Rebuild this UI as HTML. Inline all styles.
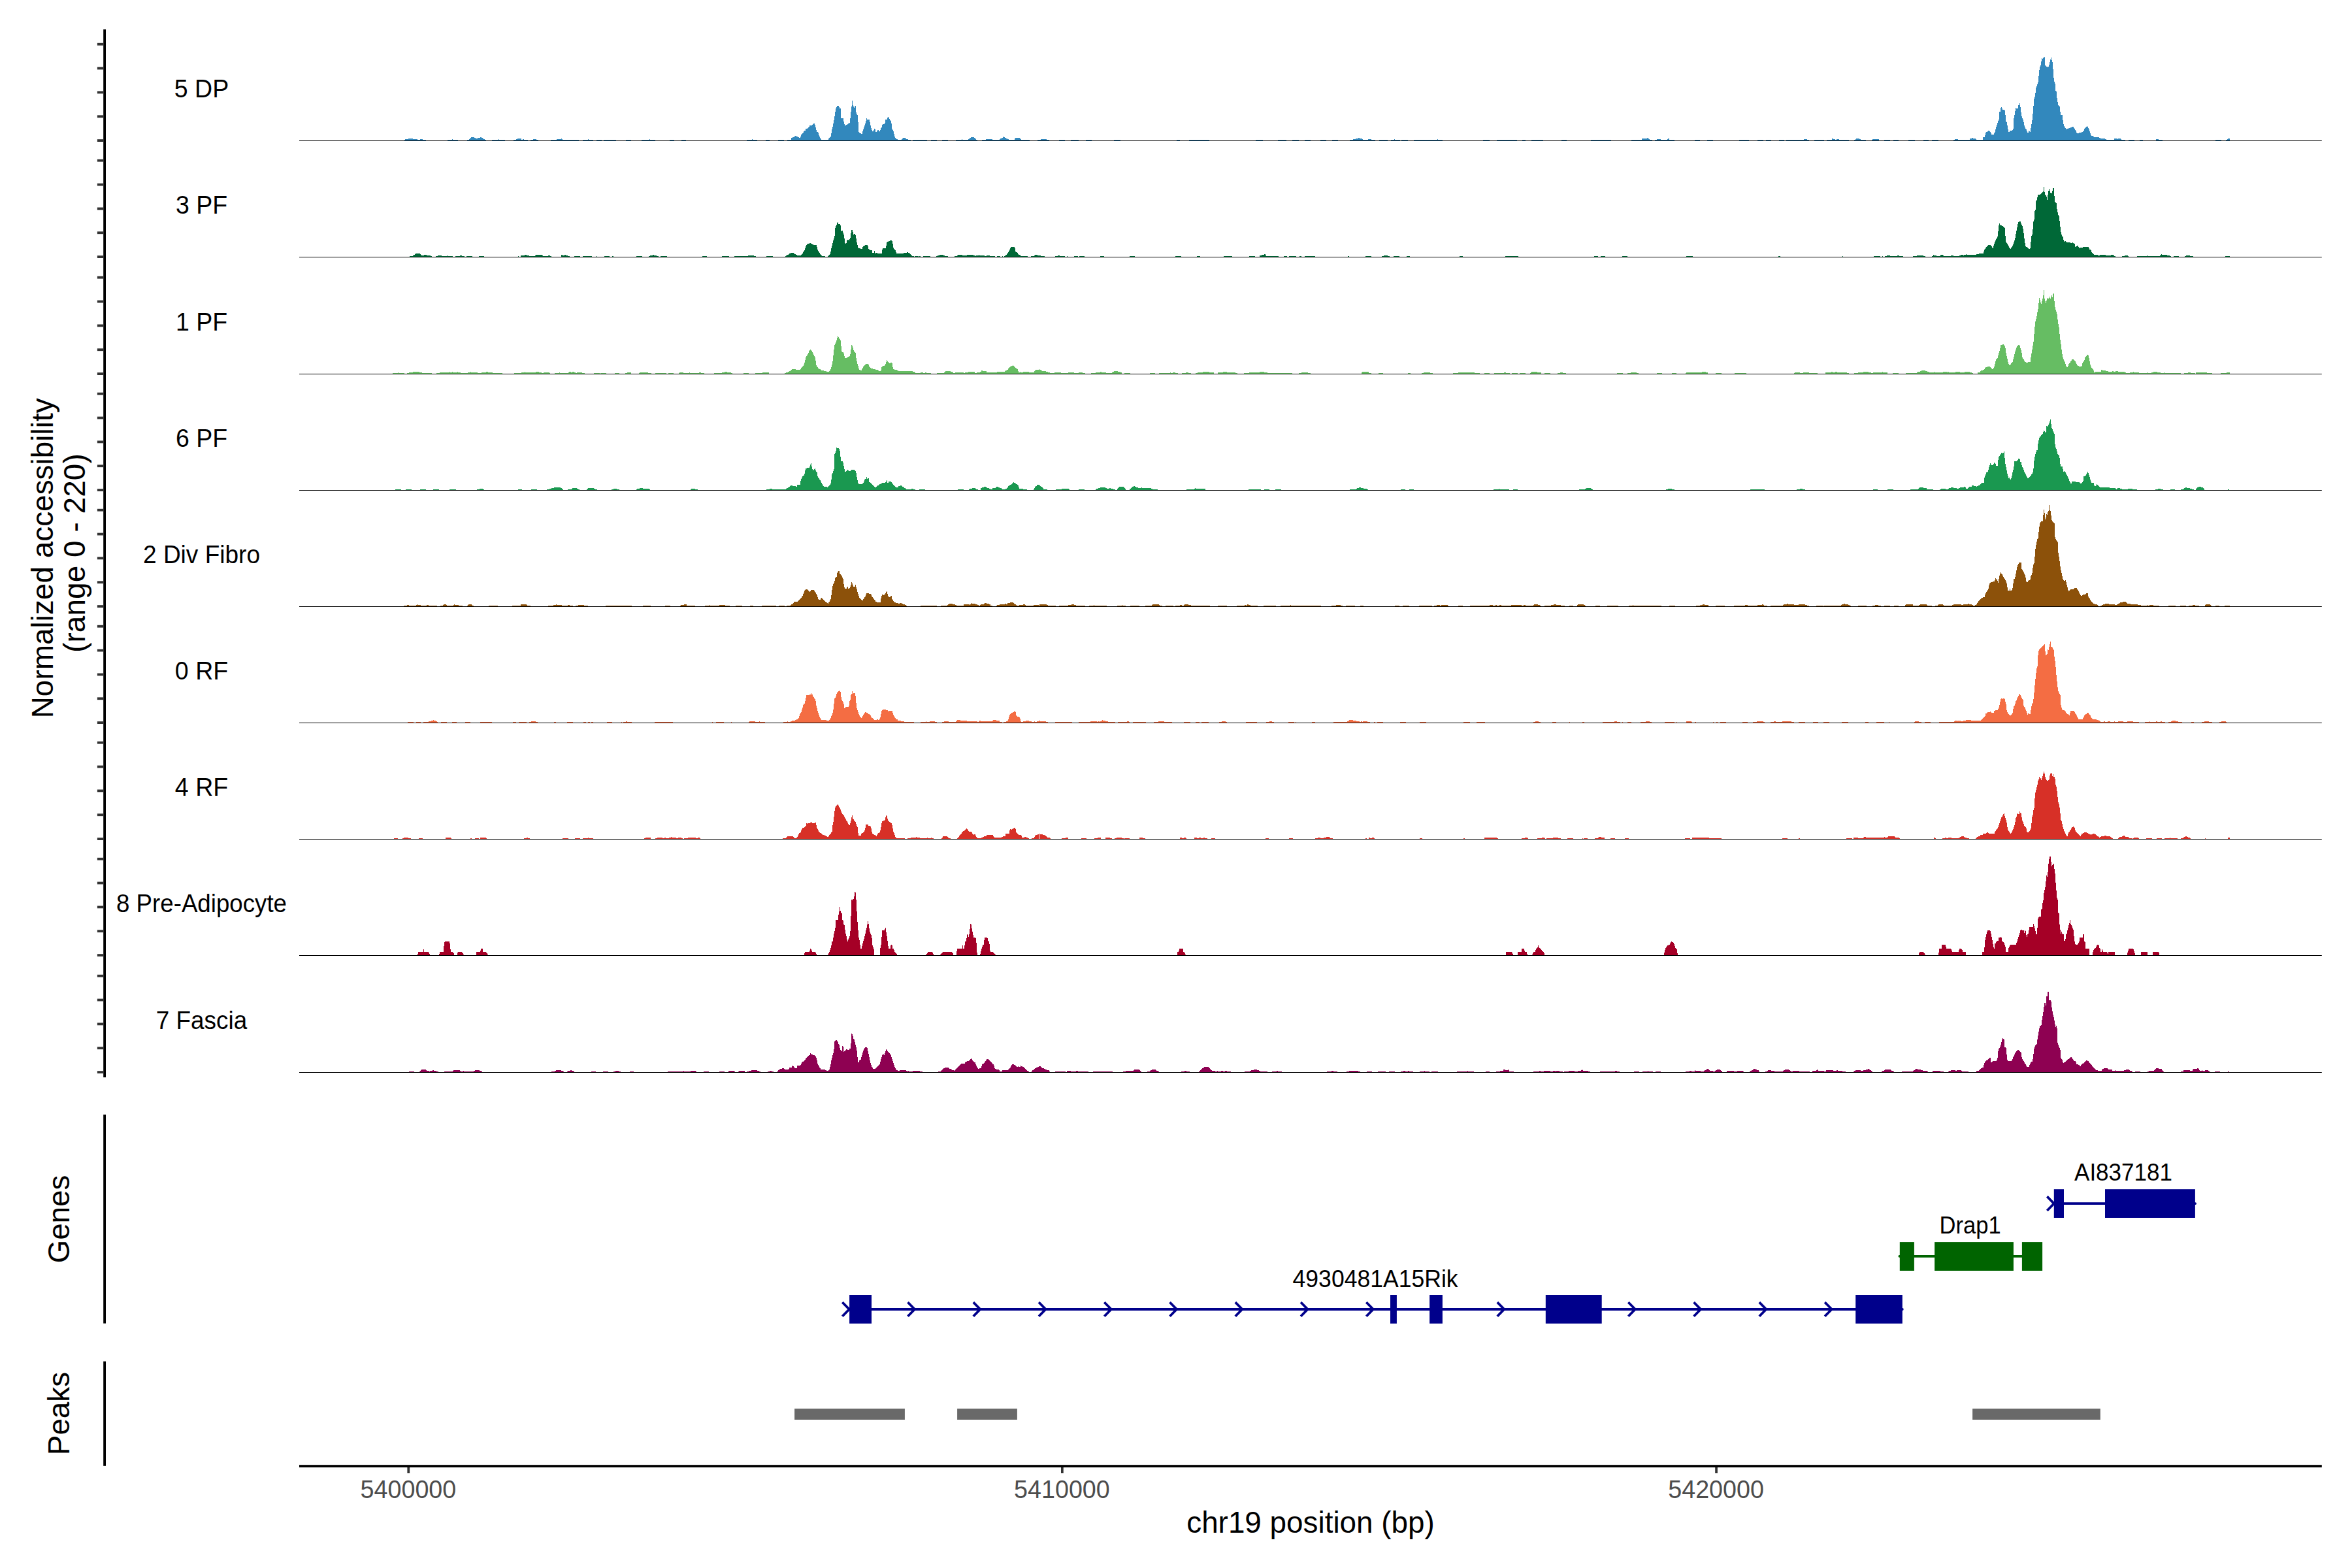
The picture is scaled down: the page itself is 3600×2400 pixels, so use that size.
<!DOCTYPE html>
<html><head><meta charset="utf-8"><title>Coverage plot</title>
<style>
html,body{margin:0;padding:0;background:#fff;}
body{width:3600px;height:2400px;overflow:hidden;}
svg{display:block;font-family:"Liberation Sans",Arial,sans-serif;}
</style></head><body>
<svg width="3600" height="2400" viewBox="0 0 3600 2400">
<rect width="3600" height="2400" fill="#fff"/>
<path d="M619.2 215.0L619.2 213.6L627.0 212.2L631.1 212.2L632.5 213.1L638.0 213.1L639.4 213.9L643.0 213.9L643.6 213.1L646.3 213.1L647.7 213.9L651.9 213.9L651.9 215.0L685.0 215.0L685.0 213.9L691.9 213.9L692.8 213.1L693.9 213.9L700.8 213.9L700.8 215.0L715.4 215.0L715.4 213.9L718.2 213.6L721.5 210.3L725.9 210.3L727.9 211.7L733.4 211.4L734.8 210.3L737.0 210.3L740.3 212.8L743.1 213.9L743.9 213.9L743.9 215.0L753.0 215.0L753.0 213.9L762.7 213.9L763.3 213.1L764.1 213.9L772.9 213.9L772.9 215.0L785.9 215.0L785.9 213.9L790.1 213.6L792.3 212.2L797.5 212.2L798.4 213.6L800.3 213.6L801.1 212.8L802.5 213.9L808.0 213.9L808.0 215.0L812.2 215.0L812.2 213.9L815.5 213.6L816.6 212.8L820.5 212.8L821.8 213.9L824.1 213.9L824.1 215.0L843.1 215.0L843.1 213.9L851.4 213.9L852.2 212.8L859.2 212.8L860.0 212.0L861.1 213.9L886.0 213.9L886.0 215.0L892.3 215.0L892.3 213.9L900.1 213.9L900.6 213.1L901.4 213.9L908.1 213.9L908.1 215.0L913.1 215.0L913.2 213.9L920.7 213.9L920.8 215.0L924.1 215.0L924.3 213.9L942.8 213.9L942.9 215.0L958.1 215.0L958.2 213.9L966.0 213.9L966.1 215.0L982.2 215.0L982.2 213.9L994.0 213.9L994.6 213.1L995.4 213.9L1002.9 213.9L1002.9 215.0L1025.0 215.0L1025.1 213.9L1032.0 213.9L1032.2 215.0L1043.2 215.0L1043.4 213.9L1049.7 213.9L1049.9 215.0L1143.3 215.0L1143.3 213.9L1150.8 213.9L1151.3 213.1L1152.1 213.9L1159.0 213.9L1159.0 215.0L1172.0 215.0L1172.2 213.9L1178.3 213.9L1178.4 215.0L1190.8 215.0L1191.2 214.1L1199.8 214.1L1200.2 215.0L1204.9 215.0L1205.3 214.1L1211.0 214.1L1211.2 211.4L1213.8 210.2L1217.0 208.4L1220.2 208.6L1223.4 211.2L1224.9 210.9L1226.2 206.3L1229.7 202.9L1230.6 200.3L1232.9 200.3L1233.3 197.4L1236.1 196.9L1239.9 191.8L1242.5 192.3L1246.3 188.2L1248.2 193.3L1250.2 202.2L1252.4 202.2L1254.0 208.6L1256.5 213.1L1257.2 214.1L1268.0 214.1L1268.3 212.4L1271.8 208.6L1273.4 198.4L1275.0 192.0L1276.9 181.8L1279.2 166.5L1281.4 162.4L1284.0 162.4L1285.2 165.9L1286.9 166.5L1287.1 180.3L1288.4 181.2L1290.3 180.3L1292.9 192.0L1294.8 191.8L1298.0 189.5L1299.9 189.2L1300.9 186.9L1302.4 171.6L1303.7 161.4L1304.5 154.4L1305.6 161.4L1307.3 165.3L1308.2 163.3L1309.5 162.4L1310.7 174.2L1312.7 176.7L1313.7 189.5L1314.2 202.2L1317.1 204.2L1319.7 205.4L1320.3 201.6L1324.1 190.8L1326.4 181.2L1328.0 183.4L1330.5 182.5L1332.4 191.4L1335.0 201.0L1336.9 201.0L1338.2 196.5L1339.4 197.8L1340.1 202.2L1342.0 202.0L1343.3 199.4L1344.5 199.4L1345.2 201.2L1346.8 201.2L1348.4 195.2L1349.0 197.1L1350.3 191.0L1352.2 190.1L1354.1 190.1L1355.4 183.4L1357.9 182.5L1359.2 178.3L1361.1 181.2L1364.3 186.9L1365.2 195.9L1367.5 201.0L1369.4 209.3L1371.3 212.4L1373.9 213.7L1374.5 214.4L1379.6 214.4L1382.2 211.4L1385.4 211.4L1387.3 213.1L1389.8 213.5L1390.5 214.1L1393.6 214.4L1394.3 215.0L1396.8 215.0L1397.2 214.2L1418.5 214.2L1418.9 215.0L1424.9 215.0L1425.3 214.2L1433.8 214.2L1434.2 215.0L1441.5 215.0L1441.9 214.2L1450.4 214.2L1450.8 215.0L1462.5 215.0L1462.9 214.2L1472.1 214.2L1472.5 213.2L1473.0 214.2L1480.0 214.2L1480.0 214.0L1481.7 214.0L1483.0 212.7L1485.5 210.8L1487.4 209.9L1490.0 210.2L1492.9 211.0L1493.8 213.3L1495.7 214.0L1496.1 215.0L1502.7 215.0L1503.4 214.0L1509.1 214.0L1509.5 213.1L1518.7 213.1L1519.3 214.0L1529.9 214.0L1530.8 212.7L1534.0 211.0L1536.5 208.9L1538.4 210.8L1541.6 212.3L1543.9 213.3L1544.4 214.0L1552.9 214.0L1553.4 212.1L1554.6 211.0L1560.8 211.0L1562.0 212.7L1563.3 214.0L1575.8 214.0L1576.3 215.0L1587.8 215.0L1588.3 214.0L1592.7 214.0L1593.3 213.1L1596.7 213.0L1597.2 212.1L1597.8 213.0L1601.6 213.1L1602.2 214.0L1605.8 214.0L1606.2 215.0L1621.0 215.0L1621.5 214.0L1629.9 214.0L1630.3 215.0L1638.8 215.0L1639.3 214.0L1650.9 214.0L1651.3 215.0L1661.9 215.0L1662.4 214.0L1670.8 214.0L1671.2 215.0L1704.9 215.0L1705.4 214.0L1714.7 214.0L1715.1 215.0L1800.9 215.0L1801.0 213.8L1805.6 213.8L1805.8 215.0L1820.2 215.0L1820.3 213.8L1850.6 213.8L1850.8 215.0L1922.1 215.0L1922.3 213.8L1932.7 213.8L1932.8 215.0L1956.1 215.0L1956.2 213.8L1968.8 213.8L1968.9 215.0L1978.1 215.0L1978.3 213.8L1987.8 213.8L1987.9 215.0L1997.1 215.0L1997.3 213.8L2005.8 213.8L2006.0 215.0L2021.0 215.0L2021.1 213.8L2029.7 213.8L2029.9 215.0L2039.0 215.0L2039.2 213.8L2047.8 213.8L2047.9 215.0L2066.0 215.0L2066.0 213.8L2070.6 213.8L2071.2 212.9L2074.2 212.9L2075.2 211.9L2078.8 211.9L2079.7 210.7L2081.0 211.9L2084.9 211.9L2085.9 213.8L2094.1 213.8L2095.0 212.9L2098.7 212.9L2099.6 213.8L2104.8 213.8L2104.8 215.0L2111.0 215.0L2111.1 213.8L2123.7 213.8L2123.8 215.0L2128.7 215.0L2128.7 213.8L2133.9 213.8L2134.5 212.9L2135.5 213.8L2143.1 213.8L2143.1 215.0L2145.2 215.0L2145.4 213.8L2154.6 213.8L2154.7 215.0L2163.9 215.0L2163.9 213.8L2199.7 213.8L2200.3 212.9L2201.3 213.8L2207.7 213.8L2207.7 215.0L2270.0 215.0L2270.2 213.8L2278.4 213.8L2278.6 215.0L2278.6 213.8L2279.8 213.8L2279.9 215.0L2290.8 215.0L2291.0 213.8L2321.9 213.8L2322.0 215.0L2330.0 215.0L2330.1 213.8L2334.7 213.8L2334.9 215.0L2344.1 215.0L2344.2 213.8L2361.7 213.8L2361.8 215.0L2390.0 215.0L2390.1 213.8L2397.8 213.8L2397.9 215.0L2435.3 215.0L2435.4 213.8L2465.7 213.8L2465.9 215.0L2497.1 215.0L2497.1 213.8L2512.7 213.8L2513.3 211.9L2520.4 211.9L2521.0 211.0L2521.9 211.9L2524.1 212.6L2525.0 213.8L2528.6 213.8L2528.6 215.0L2532.6 215.0L2532.6 213.8L2536.3 213.8L2536.9 212.9L2541.8 212.9L2542.4 213.8L2552.2 213.8L2553.1 212.6L2554.7 211.9L2555.3 213.8L2562.9 213.8L2562.9 215.0L2593.8 215.0L2594.0 213.8L2602.0 213.8L2602.1 215.0L2612.8 215.0L2613.0 213.8L2621.9 213.8L2622.0 215.0L2661.8 215.0L2661.9 213.8L2676.9 213.8L2677.1 215.0L2690.0 215.0L2690.1 213.8L2699.0 213.8L2699.1 215.0L2702.8 215.0L2703.0 213.8L2710.9 213.8L2711.1 215.0L2723.0 215.0L2723.2 213.8L2730.8 213.8L2731.0 215.0L2734.0 215.0L2734.0 213.8L2760.7 213.8L2761.3 212.9L2765.3 212.9L2765.9 213.8L2768.9 213.8L2768.9 215.0L2777.2 215.0L2777.3 213.8L2792.0 213.8L2792.2 215.0L2795.9 215.0L2795.9 213.8L2803.5 213.8L2804.1 212.9L2805.0 211.9L2806.3 212.9L2808.7 212.9L2809.3 213.8L2811.2 213.8L2811.8 212.9L2814.2 212.9L2814.8 213.8L2830.1 213.8L2830.1 215.0L2838.1 215.0L2838.1 213.8L2840.2 213.8L2840.9 212.9L2842.4 211.9L2844.8 211.9L2847.0 212.9L2847.9 213.8L2855.9 213.8L2855.9 215.0L2865.3 215.0L2865.3 213.8L2866.3 213.2L2875.4 213.2L2876.1 213.8L2876.1 215.0L2884.0 215.0L2884.2 213.8L2892.7 213.8L2892.9 215.0L2897.5 215.0L2897.6 213.8L2905.9 213.8L2906.1 215.0L2920.7 215.0L2920.9 213.8L2931.0 213.8L2931.2 215.0L2944.0 215.0L2944.2 213.8L2951.8 213.8L2952.0 215.0L2956.9 215.0L2957.0 213.8L2966.8 213.8L2967.0 215.0L2989.9 215.0L2992.1 213.2L2996.6 213.2L2997.2 214.1L3015.1 214.1L3015.3 211.8L3016.4 212.6L3018.3 210.9L3020.2 211.8L3023.4 211.8L3025.3 214.1L3034.8 214.1L3035.1 210.0L3037.7 210.0L3039.3 203.3L3041.2 202.0L3043.8 199.8L3046.3 202.0L3048.2 205.8L3051.4 205.8L3053.0 203.9L3055.3 194.3L3057.8 187.3L3059.7 182.2L3060.4 171.4L3061.6 170.7L3062.7 164.1L3063.5 164.4L3065.2 167.6L3068.0 168.2L3069.0 170.7L3070.3 185.4L3071.8 187.3L3074.1 201.4L3075.0 202.9L3076.3 200.1L3079.5 199.8L3081.8 196.9L3082.3 182.2L3084.0 173.3L3085.2 165.0L3087.1 165.9L3088.8 165.9L3089.3 160.3L3090.3 161.6L3091.6 158.2L3092.9 166.9L3094.2 177.8L3096.3 182.2L3099.3 195.0L3101.8 198.2L3102.7 202.0L3104.4 203.3L3105.6 200.1L3107.6 202.0L3109.1 192.4L3110.4 185.4L3111.4 175.2L3113.3 152.2L3114.9 146.5L3116.5 134.4L3118.4 129.9L3119.7 124.8L3121.3 107.6L3122.6 101.9L3123.9 99.9L3124.8 91.7L3125.7 88.9L3126.7 89.7L3127.7 87.8L3128.6 89.1L3129.6 86.9L3130.0 99.9L3132.4 101.9L3135.0 103.1L3136.2 100.6L3138.2 91.7L3139.4 88.1L3140.5 91.7L3141.7 96.1L3142.6 107.0L3143.9 123.5L3145.4 126.1L3146.1 138.9L3147.5 139.5L3148.1 147.8L3150.3 161.2L3152.4 162.4L3154.1 175.8L3156.7 176.5L3157.9 187.3L3159.8 194.3L3161.8 196.2L3163.7 197.9L3165.2 196.0L3166.2 196.9L3168.5 196.2L3171.3 194.1L3173.6 194.1L3175.8 197.5L3177.4 199.8L3178.7 203.3L3180.3 203.9L3182.2 203.3L3185.4 202.9L3189.2 201.1L3190.2 196.9L3192.4 195.0L3194.9 193.1L3196.8 196.2L3198.8 201.4L3200.9 207.7L3203.2 208.1L3205.5 210.0L3212.1 210.3L3215.3 211.9L3221.7 212.2L3224.9 214.1L3236.1 214.1L3236.4 211.9L3240.2 211.9L3241.5 212.8L3243.4 211.9L3245.6 212.2L3247.9 214.1L3252.3 214.1L3253.0 215.0L3257.8 215.0L3258.3 214.1L3266.4 214.1L3267.0 215.0L3274.6 215.0L3275.3 214.1L3280.0 214.1L3280.0 215.0L3300.0 215.0L3300.0 213.3L3303.8 213.3L3304.1 214.1L3309.9 214.1L3309.9 215.0L3390.9 215.0L3391.0 214.1L3399.8 214.1L3399.9 215.0L3406.9 215.0L3406.9 214.2L3409.1 213.7L3409.7 212.8L3411.0 212.3L3412.8 211.8L3412.8 215.0Z" fill="#3288BD" shape-rendering="crispEdges"/>
<rect x="458.0" y="215.00" width="3095.8" height="1" fill="#000"/>
<path d="M627.1 393.0L627.1 392.0L631.5 392.0L632.8 390.7L636.7 388.1L641.9 387.8L645.8 391.2L649.1 391.2L649.6 389.9L652.2 389.9L653.0 390.7L657.9 390.7L658.7 391.7L660.5 391.7L660.5 393.0L667.3 393.0L667.3 392.0L669.9 392.0L670.9 390.9L675.6 390.9L676.4 392.0L684.9 392.0L685.4 390.7L686.0 392.0L693.0 392.0L693.0 393.0L697.1 393.0L697.1 392.0L704.1 391.7L705.4 390.7L706.7 390.7L707.5 392.0L710.6 392.0L710.6 393.0L714.0 393.0L714.1 392.0L722.9 392.0L723.0 393.0L733.2 393.0L733.3 392.0L740.8 392.0L740.9 393.0L793.1 393.0L793.2 392.0L794.0 392.0L794.1 393.0L797.0 393.0L797.0 392.0L797.5 390.9L802.7 390.7L803.4 389.9L805.2 389.9L806.0 390.7L809.9 390.9L810.4 392.0L818.2 392.0L820.3 390.1L822.1 389.6L828.6 389.6L831.2 392.0L833.3 392.0L833.8 391.7L838.4 391.7L839.5 390.7L841.0 390.7L842.1 391.7L844.1 392.0L844.1 393.0L858.9 393.0L858.9 389.9L861.0 389.9L861.5 390.9L863.6 390.9L864.4 389.9L865.7 389.9L867.0 390.9L868.0 390.9L868.8 391.7L871.9 391.7L871.9 393.0L879.2 393.0L879.3 392.0L888.1 392.0L888.2 393.0L892.1 393.0L892.3 392.0L905.7 392.0L905.9 393.0L912.9 393.0L913.0 392.0L913.5 392.0L913.7 393.0L925.1 393.0L925.2 392.0L932.7 392.0L932.8 393.0L937.0 393.0L937.1 392.0L938.7 392.0L938.8 393.0L973.8 393.0L973.9 392.0L982.8 392.0L982.9 393.0L992.7 393.0L992.7 392.0L994.6 392.0L995.3 390.9L998.5 390.9L999.2 389.9L1000.3 389.9L1001.0 390.9L1004.9 390.9L1005.7 392.0L1008.0 392.0L1008.0 393.0L1010.9 393.0L1011.0 392.0L1020.9 392.0L1021.0 393.0L1075.0 393.0L1075.1 392.0L1081.8 392.0L1082.0 393.0L1105.3 393.0L1105.4 392.0L1115.8 392.0L1115.9 393.0L1124.2 393.0L1124.2 392.0L1145.0 392.0L1145.8 390.9L1153.3 390.9L1154.3 392.0L1157.2 392.0L1157.2 393.0L1173.0 393.0L1173.1 392.0L1183.0 392.0L1183.1 393.0L1201.6 393.0L1203.6 391.0L1207.9 389.3L1208.7 387.9L1211.3 387.0L1214.7 387.0L1218.1 389.8L1221.5 391.0L1225.7 391.0L1228.3 388.1L1231.7 382.5L1233.9 375.7L1237.3 372.6L1238.5 373.1L1240.2 371.1L1241.0 372.8L1244.1 374.0L1246.1 374.8L1249.9 374.8L1251.2 381.6L1254.6 387.6L1258.0 392.1L1262.8 392.1L1263.1 393.0L1266.9 393.0L1270.8 388.4L1272.5 379.9L1275.0 369.7L1277.6 361.2L1278.4 349.3L1281.0 342.5L1282.3 339.9L1283.5 342.5L1284.9 342.5L1286.6 345.0L1287.3 352.4L1288.6 354.1L1289.5 353.0L1291.7 359.5L1293.7 373.1L1295.1 373.4L1296.3 368.3L1298.0 367.1L1299.7 368.0L1301.4 364.6L1302.6 356.9L1303.4 352.2L1304.8 352.2L1306.5 359.5L1308.2 357.8L1309.9 361.2L1311.6 371.4L1313.8 379.6L1316.7 380.4L1319.3 381.9L1320.6 377.4L1324.4 375.1L1327.8 375.1L1329.8 381.6L1334.6 383.3L1335.4 387.0L1338.0 387.0L1338.5 384.2L1340.0 387.9L1342.2 387.0L1343.9 387.9L1349.9 387.9L1350.7 380.2L1355.8 379.9L1357.5 370.6L1360.9 368.9L1364.3 368.0L1366.0 369.7L1367.7 380.4L1370.8 383.3L1372.0 387.6L1373.3 388.1L1383.0 388.1L1383.9 387.0L1387.3 387.0L1389.0 386.2L1391.5 387.0L1394.1 389.3L1395.8 391.8L1397.8 392.1L1400.0 393.0L1400.5 392.0L1406.0 392.0L1406.5 393.0L1408.2 392.0L1409.9 393.0L1412.8 393.0L1413.3 392.0L1423.8 392.0L1424.4 393.0L1433.2 393.0L1433.7 391.8L1436.6 391.3L1438.6 390.4L1441.7 389.8L1443.4 390.4L1446.0 391.3L1446.5 392.0L1450.7 392.0L1451.2 393.0L1460.7 393.0L1462.1 391.8L1464.7 391.5L1467.2 390.1L1472.3 390.1L1473.2 391.0L1479.1 391.0L1480.0 390.1L1489.3 390.1L1491.9 391.3L1493.6 391.8L1494.4 391.1L1497.8 391.1L1498.3 390.1L1499.2 391.1L1506.3 391.1L1507.2 392.0L1509.7 392.0L1510.2 391.1L1514.8 391.1L1515.7 392.0L1522.5 392.0L1523.0 393.0L1525.9 393.0L1526.4 392.0L1531.0 392.0L1531.5 393.0L1533.9 393.0L1534.4 392.0L1535.2 393.0L1536.9 393.0L1537.8 391.8L1541.2 389.3L1544.6 384.2L1547.1 378.2L1553.1 378.2L1554.8 385.9L1557.3 386.7L1559.0 389.8L1561.6 390.1L1562.4 392.0L1572.7 392.0L1573.2 393.0L1577.8 393.0L1578.3 392.0L1582.9 391.5L1584.6 390.1L1587.1 390.1L1588.0 391.0L1590.0 391.0L1590.1 393.0L1590.1 390.9L1592.5 390.9L1593.4 391.8L1598.8 391.8L1598.8 393.0L1615.1 393.0L1615.1 391.8L1619.3 391.8L1619.9 390.9L1621.7 390.9L1622.3 391.8L1630.0 391.8L1630.0 393.0L1633.0 393.0L1633.1 391.8L1633.7 391.8L1633.9 393.0L1644.0 393.0L1644.1 391.8L1650.1 391.8L1650.2 393.0L1652.0 393.0L1652.2 391.8L1659.6 391.8L1659.8 393.0L1684.2 393.0L1684.3 391.8L1689.7 391.8L1689.8 393.0L1729.1 393.0L1729.3 391.8L1736.7 391.8L1736.8 393.0L1799.3 393.0L1799.5 391.8L1807.8 391.8L1808.0 393.0L1832.1 393.0L1832.2 391.8L1836.7 391.8L1836.8 393.0L1873.2 393.0L1873.3 391.8L1885.8 391.8L1886.0 393.0L1912.1 393.0L1912.3 391.8L1920.9 391.8L1921.1 393.0L1928.2 393.0L1928.2 390.9L1931.2 390.6L1932.7 389.7L1934.8 389.7L1935.7 388.5L1937.1 389.7L1937.7 391.8L1956.8 391.8L1956.8 393.0L1964.8 393.0L1965.0 391.8L1969.7 391.8L1969.9 393.0L1973.2 393.0L1973.3 391.8L1983.7 391.8L1983.9 393.0L1989.2 393.0L1989.4 391.8L1992.1 391.8L1992.2 393.0L1997.3 393.0L1997.4 391.8L2012.9 391.8L2013.0 393.0L2063.0 393.0L2063.2 391.8L2064.7 391.8L2064.8 393.0L2090.1 393.0L2090.3 391.8L2098.9 391.8L2099.0 393.0L2115.1 393.0L2115.1 391.8L2118.1 391.5L2119.3 390.6L2124.0 390.6L2124.6 391.8L2127.0 391.8L2127.0 393.0L2133.0 393.0L2133.1 391.8L2141.8 391.8L2141.9 393.0L2152.9 393.0L2153.1 391.8L2157.8 391.8L2158.0 393.0L2233.9 393.0L2234.0 391.8L2238.8 391.8L2238.9 393.0L2304.2 393.0L2304.4 391.8L2323.7 391.8L2323.9 393.0L2440.2 393.0L2440.4 391.8L2445.4 391.8L2445.6 393.0L2450.1 393.0L2450.2 391.8L2456.8 391.8L2456.9 393.0L2483.1 393.0L2483.2 391.8L2490.7 391.8L2490.8 393.0L2581.3 393.0L2581.5 391.8L2590.7 391.8L2590.8 393.0L2721.8 393.0L2721.9 391.8L2724.6 391.8L2724.8 393.0L2820.0 393.0L2820.1 391.8L2820.7 391.8L2820.9 393.0L2868.2 393.0L2868.4 391.8L2877.6 391.8L2877.7 393.0L2880.7 393.0L2880.9 391.8L2881.5 391.8L2881.6 393.0L2884.9 393.0L2884.9 391.8L2887.6 391.5L2888.5 390.6L2891.4 390.6L2892.6 391.5L2903.9 391.5L2904.8 390.6L2906.3 390.6L2907.2 391.8L2912.9 391.8L2912.9 393.0L2927.7 393.0L2927.7 391.8L2934.3 391.5L2935.5 390.6L2943.2 390.6L2944.4 391.8L2947.1 391.8L2947.1 393.0L2956.9 393.0L2956.9 391.8L2959.0 391.5L2959.6 389.7L2960.5 390.6L2963.5 390.6L2964.3 391.5L2970.0 391.5L2970.0 393.0L2970.0 390.6L2970.2 390.6L2971.9 389.9L2973.6 389.9L2975.0 391.8L2985.5 391.8L2986.4 391.0L2989.8 391.0L2990.6 391.8L2998.8 391.8L3000.8 390.3L3004.6 390.3L3005.6 391.0L3007.6 389.9L3010.2 389.3L3011.0 389.9L3024.6 389.9L3025.5 388.9L3028.9 388.6L3029.7 387.9L3035.7 387.7L3037.4 382.1L3040.8 377.4L3043.3 375.0L3046.7 375.0L3048.8 377.9L3050.5 380.1L3052.7 371.9L3055.2 366.8L3057.8 361.7L3059.1 347.3L3060.3 342.0L3062.0 344.7L3063.4 344.7L3065.4 346.4L3068.8 349.5L3070.0 369.4L3072.2 372.8L3077.3 381.8L3081.6 373.6L3084.1 366.8L3086.7 351.5L3089.3 339.9L3090.6 338.7L3092.7 339.1L3093.8 342.7L3095.2 344.7L3096.9 351.2L3098.1 362.6L3100.3 376.7L3102.9 378.7L3105.4 380.8L3107.6 380.4L3109.3 361.7L3111.0 357.5L3112.6 337.9L3113.9 334.5L3114.4 323.4L3115.6 320.9L3116.8 303.9L3117.8 306.4L3119.0 298.3L3122.9 297.9L3125.8 295.0L3128.0 292.8L3128.5 286.0L3129.2 292.8L3130.6 297.9L3132.6 301.3L3133.5 305.6L3134.8 295.4L3136.4 288.9L3137.7 292.0L3138.9 296.7L3140.3 295.4L3141.6 292.0L3143.3 284.0L3144.0 295.4L3145.4 309.0L3147.6 311.0L3148.8 322.6L3150.1 327.7L3151.8 331.9L3153.0 343.0L3154.7 356.6L3156.4 361.7L3157.8 361.7L3159.0 370.6L3161.0 368.9L3163.2 370.6L3166.6 371.2L3170.9 371.9L3172.6 370.9L3173.9 372.8L3175.6 372.8L3176.3 377.9L3178.5 377.0L3180.2 375.7L3181.6 377.9L3183.6 379.6L3187.0 379.1L3189.6 377.9L3196.4 377.9L3198.1 381.3L3200.1 382.6L3201.5 385.5L3205.7 389.8L3210.0 390.3L3213.4 391.5L3215.1 389.9L3221.9 389.9L3222.8 390.8L3230.4 390.8L3231.3 389.9L3234.7 389.9L3236.4 391.5L3238.1 393.0L3247.4 393.0L3248.3 392.0L3251.7 391.6L3252.5 390.8L3255.9 390.8L3258.0 392.7L3270.9 392.7L3271.6 391.8L3285.7 391.8L3286.5 390.8L3287.9 391.8L3306.1 391.8L3307.8 389.8L3308.6 388.9L3309.5 389.9L3316.3 389.9L3318.0 391.1L3322.2 391.6L3323.1 392.7L3327.3 392.7L3328.2 391.8L3335.0 391.8L3335.5 392.7L3344.0 392.7L3346.9 391.1L3350.3 390.8L3352.9 392.3L3360.0 392.7L3360.0 393.0L3405.9 393.0L3405.9 392.4L3406.3 391.9L3412.7 391.9L3413.0 392.4L3413.0 393.0Z" fill="#006837" shape-rendering="crispEdges"/>
<rect x="458.0" y="393.00" width="3095.8" height="1" fill="#000"/>
<path d="M601.2 572.0L601.2 571.0L610.0 571.0L610.5 570.2L611.0 571.0L619.0 571.0L619.0 572.0L623.2 572.0L623.2 571.0L625.8 571.0L626.6 569.9L631.5 569.9L632.3 568.9L641.9 568.9L642.6 569.9L645.8 569.9L646.5 571.0L660.8 571.0L660.8 572.0L667.8 572.0L667.8 571.0L672.5 571.0L673.2 569.9L687.3 569.9L687.8 568.9L688.3 569.9L692.2 569.9L692.7 568.9L693.2 569.9L700.2 569.9L700.7 568.9L701.3 569.9L704.6 569.9L705.4 571.0L715.8 571.0L716.6 569.9L719.7 569.9L720.4 568.9L721.7 569.9L730.8 569.9L731.6 571.0L736.5 571.0L737.3 569.9L743.8 569.9L744.6 568.9L746.6 568.9L747.4 569.9L753.9 569.9L754.7 571.0L768.7 571.0L768.7 572.0L787.1 572.0L787.1 571.0L797.5 571.0L798.2 569.9L802.7 569.9L803.4 568.9L804.7 569.9L819.5 569.9L820.3 568.9L824.7 568.9L825.5 569.9L828.6 569.9L829.4 571.0L831.7 571.0L832.5 569.9L841.0 569.9L841.8 571.0L841.8 572.0L848.8 572.0L848.8 571.0L856.1 571.0L856.6 570.2L857.1 571.0L869.6 571.0L870.3 569.9L871.4 568.9L873.5 568.9L874.2 569.9L875.8 569.9L876.6 568.9L878.6 568.9L879.4 569.9L882.5 571.0L883.3 569.9L890.3 569.9L891.1 571.0L895.0 571.0L895.0 572.0L909.0 572.0L909.1 571.0L917.9 571.0L918.1 572.0L919.4 572.0L919.5 571.0L927.8 571.0L927.9 572.0L940.9 572.0L941.0 571.0L948.0 571.0L948.1 572.0L957.0 572.0L957.0 571.0L959.6 571.0L960.3 569.9L965.5 569.9L966.0 571.0L966.0 572.0L978.2 572.0L978.2 571.0L979.0 569.9L991.5 569.9L992.2 571.0L996.6 571.0L996.6 572.0L1003.1 572.0L1003.3 571.0L1019.6 571.0L1019.7 572.0L1022.6 572.0L1022.7 571.0L1030.7 571.0L1030.9 572.0L1039.2 572.0L1039.2 571.0L1039.9 569.9L1045.7 569.9L1046.4 571.0L1055.0 571.0L1055.5 570.2L1056.0 571.0L1069.8 571.0L1070.5 569.9L1072.4 569.9L1073.1 571.0L1077.8 571.0L1077.8 572.0L1093.1 572.0L1093.1 571.0L1104.8 571.0L1105.6 569.9L1108.7 569.9L1109.5 568.9L1112.6 568.9L1113.3 569.9L1118.5 569.9L1119.3 571.0L1120.9 571.0L1120.9 572.0L1138.0 572.0L1138.1 571.0L1145.6 571.0L1145.8 572.0L1155.9 572.0L1155.9 571.0L1167.0 571.0L1167.8 569.9L1176.6 569.9L1177.4 571.0L1177.4 572.0L1201.1 572.0L1201.9 570.8L1205.3 570.1L1208.7 568.4L1213.0 565.0L1217.2 564.7L1219.8 566.7L1222.3 565.9L1224.9 565.5L1227.1 562.6L1229.5 560.4L1231.7 554.5L1233.4 546.8L1235.9 543.4L1238.5 537.5L1240.5 535.4L1242.7 537.5L1245.3 542.6L1247.8 547.7L1249.5 558.7L1252.1 563.5L1255.5 565.5L1258.0 566.9L1262.3 567.7L1265.7 568.6L1267.4 569.4L1270.8 567.2L1272.8 561.3L1274.5 552.8L1276.2 537.5L1277.2 528.1L1279.3 524.7L1281.0 519.6L1282.3 513.3L1283.5 516.2L1285.2 518.8L1286.9 521.3L1288.1 538.3L1290.3 538.7L1292.0 542.6L1293.2 548.2L1297.1 547.2L1298.8 545.5L1300.2 546.0L1301.9 540.9L1303.4 527.6L1304.8 529.8L1306.2 534.9L1307.3 538.0L1309.4 539.2L1310.7 549.4L1312.8 557.9L1315.0 565.5L1316.7 566.4L1318.7 566.7L1320.6 562.6L1323.5 558.7L1325.7 556.7L1329.1 556.7L1330.3 561.3L1333.7 563.8L1336.3 564.7L1339.7 565.5L1341.4 566.4L1343.6 565.5L1345.1 568.1L1348.2 568.1L1349.4 562.6L1351.6 559.9L1354.1 559.6L1355.8 556.2L1357.5 551.4L1359.2 554.0L1361.8 556.5L1364.3 554.5L1365.7 556.2L1366.9 564.7L1369.4 565.5L1372.0 565.5L1374.5 567.2L1376.2 568.4L1377.9 567.6L1383.0 567.6L1383.9 568.4L1394.1 568.4L1394.9 567.4L1396.1 568.4L1399.2 568.8L1400.9 570.6L1409.4 570.6L1409.9 569.6L1412.8 569.6L1413.3 570.6L1416.2 570.6L1416.7 569.6L1417.9 570.6L1424.7 571.0L1425.5 572.0L1434.0 572.0L1434.9 570.8L1445.1 570.5L1446.8 568.4L1449.4 567.6L1453.6 567.6L1455.3 568.6L1458.7 569.8L1459.6 570.6L1462.1 570.6L1462.6 569.8L1474.9 569.8L1475.4 570.8L1477.1 570.8L1477.8 569.8L1481.7 569.8L1482.5 568.6L1491.9 568.6L1492.4 570.8L1494.8 570.8L1495.3 569.8L1501.2 569.4L1502.6 566.6L1504.6 567.6L1506.3 568.4L1509.7 568.4L1510.6 569.8L1525.9 569.8L1526.7 568.6L1537.8 568.6L1539.5 566.7L1542.0 566.4L1544.6 562.6L1546.3 560.9L1548.8 560.4L1550.5 558.7L1553.1 561.3L1558.2 566.0L1558.7 569.8L1561.6 569.8L1562.4 568.8L1563.3 569.8L1565.9 569.8L1566.7 568.6L1574.4 568.6L1575.2 569.8L1582.9 569.8L1583.7 567.2L1587.1 565.9L1590.0 565.9L1590.4 572.0L1590.4 564.9L1593.4 566.9L1596.4 568.4L1598.5 567.8L1602.3 569.0L1606.2 569.9L1607.4 570.8L1613.3 570.8L1614.2 569.6L1624.0 569.6L1624.6 570.8L1634.5 570.8L1635.4 569.6L1643.7 569.6L1644.3 570.8L1650.8 570.8L1651.4 569.6L1655.9 569.6L1656.8 570.8L1661.0 570.8L1661.0 572.0L1670.2 572.0L1670.2 570.8L1676.7 570.8L1677.6 569.6L1683.6 569.6L1684.5 568.7L1686.0 569.6L1691.9 569.6L1692.8 570.8L1702.0 570.8L1702.9 569.6L1705.0 568.7L1708.0 567.5L1711.0 568.7L1715.4 569.6L1716.9 570.8L1716.9 572.0L1721.4 572.0L1721.5 570.8L1729.9 570.8L1730.0 572.0L1760.1 572.0L1760.2 570.8L1767.6 570.8L1767.8 572.0L1773.5 572.0L1773.5 570.8L1790.7 570.8L1791.3 569.9L1791.9 570.8L1794.3 570.8L1795.2 569.6L1798.8 569.6L1799.6 570.8L1802.6 570.8L1802.6 572.0L1809.2 572.0L1809.2 570.8L1814.5 570.8L1815.4 569.6L1818.7 569.6L1819.6 570.8L1822.9 570.8L1822.9 572.0L1830.0 572.0L1830.0 570.8L1832.4 570.8L1833.3 569.6L1841.3 569.6L1842.5 568.7L1850.2 568.7L1851.4 569.6L1856.8 569.6L1858.3 570.8L1858.3 572.0L1864.2 572.0L1864.2 570.8L1865.1 569.6L1871.7 569.6L1872.9 568.7L1877.0 568.7L1878.2 569.6L1890.1 569.6L1891.3 570.8L1893.7 570.8L1893.7 572.0L1903.8 572.0L1903.8 570.8L1911.8 570.8L1912.7 569.6L1927.6 569.6L1928.8 568.7L1933.6 568.7L1934.8 569.6L1939.5 569.6L1940.4 570.8L1977.9 570.8L1977.9 572.0L1987.7 572.0L1987.7 570.8L1991.6 570.8L1992.5 569.6L2001.4 569.6L2002.6 570.8L2005.6 570.8L2005.6 572.0L2083.9 572.0L2083.9 570.8L2086.0 568.7L2094.3 568.7L2095.5 570.8L2098.8 570.8L2098.8 572.0L2109.8 572.0L2109.9 570.8L2116.8 570.8L2116.9 572.0L2155.0 572.0L2155.1 570.8L2158.7 570.8L2158.9 572.0L2175.8 572.0L2175.8 570.8L2179.1 570.8L2180.0 569.6L2187.7 569.6L2188.9 570.8L2193.1 570.8L2193.1 572.0L2223.8 572.0L2223.8 570.8L2231.8 570.8L2232.7 569.6L2256.2 569.6L2257.4 570.8L2264.5 570.8L2264.5 572.0L2271.5 572.0L2271.6 570.8L2279.7 570.8L2279.8 572.0L2279.8 570.8L2279.9 570.8L2280.0 572.0L2287.0 572.0L2287.0 570.8L2301.8 570.8L2302.7 569.6L2304.5 569.6L2305.4 570.8L2310.8 570.8L2310.8 572.0L2314.0 572.0L2314.2 570.8L2322.8 570.8L2323.0 572.0L2326.0 572.0L2326.1 570.8L2334.7 570.8L2334.9 572.0L2342.3 572.0L2342.3 570.8L2344.4 568.7L2351.8 568.7L2353.3 569.6L2357.8 569.6L2359.3 570.8L2359.3 572.0L2364.0 572.0L2364.2 570.8L2372.8 570.8L2373.0 572.0L2384.0 572.0L2384.0 570.8L2387.6 570.8L2388.5 569.6L2391.4 569.6L2392.3 570.8L2397.1 570.8L2397.1 572.0L2475.4 572.0L2475.5 570.8L2483.5 570.8L2483.7 572.0L2490.8 572.0L2490.8 570.8L2495.6 570.8L2496.5 569.6L2504.5 569.6L2505.7 570.8L2508.1 570.8L2508.1 572.0L2535.8 572.0L2535.9 570.8L2543.7 570.8L2543.8 572.0L2559.0 572.0L2559.1 570.8L2565.7 570.8L2565.8 572.0L2580.1 572.0L2580.1 570.8L2582.5 569.6L2604.8 569.6L2605.7 568.7L2609.3 568.7L2610.8 569.6L2612.9 569.6L2614.0 570.8L2614.0 572.0L2626.2 572.0L2626.4 570.8L2634.7 570.8L2634.9 572.0L2655.4 572.0L2655.6 570.8L2672.5 570.8L2672.7 572.0L2746.2 572.0L2746.2 570.8L2747.7 569.6L2754.5 569.6L2755.7 570.8L2759.6 570.8L2760.5 569.6L2768.5 569.6L2769.4 570.8L2781.9 570.8L2781.9 572.0L2793.8 572.0L2793.8 570.8L2795.3 569.6L2802.7 569.6L2803.6 568.7L2804.8 569.6L2809.3 569.6L2810.2 568.7L2811.7 569.6L2826.5 569.6L2827.4 570.8L2830.1 570.8L2830.1 572.0L2837.9 572.0L2837.9 570.8L2843.8 570.8L2844.7 569.6L2851.8 569.6L2852.7 568.7L2859.3 568.7L2860.5 569.6L2863.8 569.6L2864.6 570.8L2866.7 570.8L2867.6 569.6L2880.7 569.6L2881.6 568.7L2882.5 569.6L2887.6 569.6L2889.0 570.8L2889.0 572.0L2897.1 572.0L2897.2 570.8L2905.9 570.8L2906.0 572.0L2916.7 572.0L2916.7 570.8L2933.7 570.8L2935.2 569.6L2938.2 568.7L2941.1 567.5L2944.1 566.6L2947.1 567.5L2950.1 568.7L2953.0 569.6L2959.9 569.6L2960.5 568.7L2961.1 569.6L2970.0 569.6L2970.0 572.0L2970.0 570.0L2973.6 570.0L2974.5 568.8L2980.4 568.8L2981.3 569.8L2982.6 568.8L2983.8 569.8L2992.3 569.8L2993.2 568.8L2999.1 568.8L3000.0 569.8L3006.8 569.8L3007.6 568.8L3013.6 568.8L3016.1 570.1L3019.5 570.8L3020.4 572.0L3026.8 572.0L3027.3 570.0L3030.6 569.6L3031.4 567.7L3034.8 567.1L3037.4 564.9L3039.1 562.0L3041.6 561.6L3043.3 560.6L3045.9 561.6L3048.4 564.3L3050.1 565.7L3052.7 560.6L3055.2 550.7L3057.3 548.7L3059.5 540.2L3061.5 533.4L3062.6 527.8L3064.6 527.8L3066.0 526.6L3068.0 528.8L3069.4 532.5L3070.5 540.2L3072.6 549.6L3073.9 555.5L3075.6 558.9L3077.3 558.1L3080.7 553.5L3082.4 547.0L3084.7 536.8L3086.7 531.7L3088.4 528.8L3090.4 527.8L3091.8 529.7L3092.7 533.4L3094.4 538.5L3095.2 547.0L3097.4 549.6L3099.5 553.5L3102.0 555.8L3104.6 553.8L3107.6 553.8L3108.8 545.3L3110.5 535.1L3112.6 522.3L3114.3 501.9L3115.6 491.7L3117.8 482.4L3119.9 470.5L3120.7 462.0L3121.6 454.8L3122.9 460.3L3124.1 466.2L3125.8 459.4L3127.5 452.6L3128.5 443.8L3129.4 456.9L3131.3 464.5L3133.1 457.7L3134.3 455.2L3135.7 457.7L3137.4 453.5L3138.6 457.7L3140.3 451.8L3141.6 454.8L3143.3 446.7L3144.2 457.7L3145.4 469.6L3147.1 475.6L3148.8 482.4L3150.1 494.3L3151.8 502.8L3153.0 516.4L3154.7 528.3L3155.9 538.5L3157.3 547.0L3159.0 550.7L3161.5 556.9L3163.2 561.8L3164.9 561.5L3166.6 557.2L3169.2 553.8L3171.7 549.9L3173.4 549.9L3176.8 553.8L3180.2 559.8L3182.8 560.6L3186.2 560.6L3187.9 554.7L3190.4 551.8L3191.0 547.0L3193.0 545.8L3194.7 542.7L3196.7 543.9L3198.1 551.3L3200.1 560.6L3201.5 562.8L3204.0 565.7L3205.7 570.0L3208.3 568.8L3216.0 568.8L3216.5 565.7L3218.5 566.6L3221.1 567.4L3225.3 567.7L3227.0 568.8L3233.0 568.8L3233.8 567.7L3235.2 568.8L3238.1 568.8L3238.9 567.7L3241.5 567.7L3242.3 568.8L3250.8 568.8L3253.4 570.0L3255.1 570.8L3259.3 570.8L3260.2 569.8L3265.3 569.8L3265.8 568.8L3266.6 569.8L3272.9 569.8L3273.8 570.8L3285.7 570.8L3286.2 569.8L3287.0 570.8L3292.5 570.8L3293.3 569.8L3296.7 569.4L3297.6 568.6L3301.8 568.6L3302.7 569.8L3306.1 569.8L3306.9 570.8L3312.9 570.8L3313.7 569.8L3314.6 570.8L3337.6 570.8L3338.4 572.0L3342.7 572.0L3343.5 570.8L3348.6 570.5L3349.5 569.6L3352.0 569.6L3352.9 570.8L3358.0 570.8L3360.0 571.7L3360.0 572.0L3361.0 572.0L3361.0 571.0L3362.0 569.9L3377.8 569.9L3378.4 571.0L3385.9 571.0L3385.9 572.0L3399.1 572.0L3399.1 571.0L3407.9 571.0L3408.3 569.9L3412.9 569.9L3412.9 572.0Z" fill="#66BD63" shape-rendering="crispEdges"/>
<rect x="458.0" y="572.00" width="3095.8" height="1" fill="#000"/>
<path d="M605.0 750.0L605.2 749.0L613.7 749.0L613.9 750.0L621.1 750.0L621.2 749.0L629.5 749.0L629.7 750.0L642.9 750.0L643.0 749.0L651.6 749.0L651.7 750.0L663.1 750.0L663.3 749.0L671.8 749.0L672.0 750.0L688.0 750.0L688.2 749.0L697.8 749.0L697.9 750.0L730.0 750.0L730.0 749.0L733.4 749.0L734.2 747.9L738.3 747.9L739.4 749.0L740.9 749.0L740.9 750.0L793.1 750.0L793.2 749.0L799.4 749.0L799.5 750.0L813.0 750.0L813.2 749.0L821.7 749.0L821.8 750.0L836.9 750.0L836.9 749.0L840.3 749.0L841.0 747.9L844.1 747.9L844.9 746.9L846.7 746.9L848.8 745.9L857.1 745.9L859.7 747.1L861.5 749.0L861.5 750.0L869.0 750.0L869.0 749.0L874.0 749.0L875.3 747.9L877.9 746.9L882.5 746.9L884.3 748.4L886.9 749.0L886.9 750.0L898.1 750.0L898.1 749.0L899.9 747.9L901.2 746.9L908.5 746.9L910.3 748.4L913.7 749.0L913.7 750.0L936.2 750.0L936.2 749.0L938.8 748.7L939.6 747.9L943.2 747.9L944.3 749.0L947.9 749.0L947.9 750.0L974.3 750.0L974.3 749.0L975.6 747.9L978.2 747.9L979.0 746.9L983.4 746.9L984.2 747.9L992.7 747.9L994.6 749.0L994.6 750.0L1056.8 750.0L1056.8 749.0L1059.4 747.9L1063.3 747.9L1064.6 749.0L1068.0 749.0L1068.0 750.0L1173.0 750.0L1173.0 749.0L1177.4 748.7L1178.2 747.9L1181.3 747.9L1182.1 749.0L1200.0 749.0L1200.0 750.0L1200.0 748.8L1202.8 748.8L1204.5 746.9L1207.0 746.4L1211.3 742.7L1213.8 743.7L1217.2 743.7L1219.3 745.6L1220.3 741.8L1224.9 741.8L1225.4 735.9L1227.4 731.1L1229.5 727.7L1230.8 728.6L1232.2 720.9L1233.4 716.7L1237.6 716.3L1239.3 715.0L1240.3 711.6L1241.5 708.5L1242.7 715.0L1244.1 720.9L1245.8 718.9L1247.5 716.7L1249.2 721.8L1250.9 723.5L1251.6 729.4L1254.6 733.7L1257.2 738.8L1259.7 743.0L1261.4 744.7L1264.8 744.7L1266.9 745.7L1269.1 743.9L1271.3 741.3L1272.8 732.8L1273.3 726.9L1275.0 723.0L1276.7 717.5L1277.2 695.4L1279.3 692.0L1280.3 684.7L1281.8 686.1L1284.4 686.6L1286.1 692.0L1286.9 705.3L1290.3 706.5L1292.0 715.8L1293.4 722.3L1295.4 720.9L1297.5 718.7L1298.8 720.6L1302.2 720.6L1303.6 718.7L1307.3 718.7L1309.9 720.9L1311.1 727.7L1312.8 736.2L1314.1 740.8L1319.3 740.8L1321.0 740.1L1323.5 734.2L1325.5 732.8L1326.4 729.8L1327.4 732.8L1329.5 732.0L1330.3 737.6L1332.9 739.3L1335.4 741.8L1338.8 745.6L1340.5 745.6L1343.9 743.0L1348.2 740.5L1351.2 738.4L1352.4 739.3L1355.8 738.4L1357.5 734.5L1358.4 738.8L1360.1 738.8L1360.6 736.6L1362.6 736.6L1365.2 739.1L1367.7 742.2L1369.4 744.4L1370.6 745.6L1374.5 745.6L1375.4 743.5L1377.9 743.5L1378.8 742.3L1380.5 744.4L1383.0 745.6L1386.4 748.1L1387.3 748.8L1394.9 748.8L1395.8 747.6L1397.5 747.6L1398.3 748.8L1400.9 749.1L1401.7 750.0L1406.8 750.0L1407.7 748.8L1415.3 748.8L1416.2 750.0L1465.5 750.0L1466.4 748.8L1474.9 748.8L1475.7 750.0L1482.5 750.0L1484.2 748.1L1487.6 747.6L1489.3 746.6L1491.9 746.6L1493.6 748.5L1496.6 748.8L1497.5 750.0L1500.4 750.0L1501.2 746.8L1503.8 746.4L1505.5 745.6L1507.2 744.7L1509.7 745.6L1512.3 747.3L1515.7 747.8L1516.5 748.8L1519.1 748.8L1519.6 746.8L1525.0 746.4L1525.9 744.7L1527.6 744.7L1529.3 746.4L1532.7 747.3L1534.4 748.5L1539.5 748.5L1541.7 747.3L1544.6 742.7L1547.1 742.2L1549.7 739.6L1551.4 738.4L1553.1 738.8L1554.8 740.5L1557.3 741.3L1559.0 743.9L1559.9 747.6L1565.0 747.6L1565.9 748.5L1571.8 748.8L1572.7 750.0L1582.0 750.0L1583.2 747.3L1584.6 744.7L1587.1 743.9L1587.6 741.5L1590.0 741.5L1590.1 750.0L1590.1 742.0L1593.4 744.9L1596.4 746.4L1597.3 748.8L1602.9 748.8L1602.9 750.0L1615.7 750.0L1615.7 748.8L1624.6 748.8L1625.5 747.6L1635.1 747.6L1636.5 748.8L1636.5 750.0L1650.8 750.0L1651.0 748.8L1659.6 748.8L1659.8 750.0L1676.7 750.0L1676.7 748.8L1681.2 747.6L1685.7 745.8L1690.1 745.8L1694.6 747.6L1698.2 747.6L1699.0 746.7L1700.5 747.6L1705.0 748.8L1706.5 748.8L1706.5 750.0L1710.1 750.0L1710.1 748.8L1711.5 746.7L1714.5 744.9L1719.3 744.9L1721.4 746.7L1722.9 748.8L1722.9 750.0L1728.8 750.0L1728.8 748.8L1731.8 746.7L1735.4 743.8L1737.7 744.9L1742.2 746.7L1746.7 746.7L1747.6 745.8L1748.5 746.7L1763.0 747.6L1764.5 748.8L1772.0 748.8L1772.0 750.0L1816.0 750.0L1816.0 748.8L1827.6 748.8L1828.5 747.6L1829.4 746.7L1830.6 747.6L1843.4 747.6L1844.9 748.8L1844.9 750.0L1911.0 750.0L1911.1 748.8L1929.6 748.8L1929.7 750.0L1934.8 750.0L1934.9 748.8L1942.9 748.8L1943.1 750.0L1952.0 750.0L1952.2 748.8L1960.8 748.8L1961.0 750.0L2066.0 750.0L2066.0 748.8L2075.5 748.8L2076.4 747.6L2079.4 746.7L2080.6 745.5L2083.0 746.7L2087.4 747.6L2092.5 748.5L2094.0 748.8L2094.0 750.0L2144.0 750.0L2144.1 748.8L2151.3 748.8L2151.4 750.0L2156.8 750.0L2156.9 748.8L2163.8 748.8L2163.9 750.0L2285.8 750.0L2285.8 748.8L2293.8 748.8L2294.4 747.9L2295.3 748.8L2309.6 748.8L2309.6 750.0L2316.1 750.0L2316.3 748.8L2322.8 748.8L2323.0 750.0L2417.3 750.0L2417.3 748.8L2426.2 748.5L2427.7 747.6L2430.1 746.7L2433.7 746.7L2435.2 747.9L2438.2 748.8L2438.2 750.0L2549.8 750.0L2549.8 748.8L2553.3 748.5L2554.2 747.6L2558.1 747.6L2559.3 748.8L2563.2 748.8L2563.2 750.0L2679.2 750.0L2679.4 748.8L2701.4 748.8L2701.5 750.0L2749.8 750.0L2749.8 748.8L2754.5 748.5L2755.4 747.6L2758.1 747.6L2759.0 748.8L2763.2 748.8L2763.2 750.0L2866.7 750.0L2866.9 748.8L2874.0 748.8L2874.2 750.0L2889.0 750.0L2889.2 748.8L2897.8 748.8L2898.0 750.0L2923.9 750.0L2923.9 748.8L2935.2 748.8L2936.7 747.6L2939.0 746.1L2942.6 745.8L2944.1 746.7L2948.0 746.7L2949.5 748.5L2959.0 748.8L2959.0 750.0L2968.5 750.0L2969.4 748.8L2972.8 748.3L2974.5 747.6L2977.0 748.0L2978.7 749.1L2981.8 749.1L2982.4 747.6L2985.5 747.1L2986.9 745.9L2989.8 745.9L2990.6 746.8L2994.0 746.8L2996.6 748.5L2998.3 747.1L3000.0 746.3L3005.1 745.9L3006.8 744.9L3008.5 745.9L3009.3 747.6L3011.9 747.6L3014.1 745.4L3017.5 744.7L3018.7 742.9L3020.4 742.9L3022.1 744.6L3023.8 744.0L3025.1 744.9L3027.2 744.0L3029.7 742.9L3032.3 740.3L3034.0 738.9L3036.9 738.9L3037.4 731.8L3039.1 726.7L3040.8 722.4L3042.1 723.0L3044.2 716.5L3046.4 708.8L3047.6 711.1L3049.3 712.2L3051.0 711.9L3052.3 708.0L3054.4 709.7L3055.2 712.8L3057.8 712.8L3058.3 706.3L3059.1 699.1L3061.2 696.9L3063.7 693.0L3065.8 694.0L3067.5 691.0L3068.0 696.1L3069.2 708.0L3070.5 714.8L3072.2 723.3L3074.3 731.8L3075.6 731.0L3077.3 734.9L3078.7 731.8L3080.7 722.4L3082.4 714.8L3083.3 706.0L3086.7 706.0L3088.4 703.7L3090.1 701.5L3091.8 702.9L3092.3 706.6L3093.5 707.1L3095.2 714.8L3096.9 716.5L3098.6 722.4L3101.2 727.6L3103.7 732.7L3106.3 730.6L3109.7 725.9L3112.2 722.4L3113.1 707.1L3114.4 699.5L3115.6 694.4L3117.3 689.3L3118.7 688.4L3119.4 679.1L3120.7 673.1L3121.9 668.0L3123.3 668.9L3125.0 665.5L3126.7 663.8L3128.4 659.0L3130.1 661.2L3131.4 662.9L3132.1 651.9L3133.8 653.6L3135.2 651.0L3136.9 646.8L3138.6 641.7L3139.4 648.5L3140.3 654.4L3142.8 660.4L3144.5 663.8L3145.4 679.1L3146.7 685.9L3147.9 687.6L3149.1 694.4L3152.2 697.8L3153.5 709.7L3154.7 714.5L3156.9 713.9L3158.1 721.6L3160.3 721.3L3162.4 725.0L3164.9 729.3L3166.6 733.5L3169.2 740.0L3170.5 740.0L3171.2 736.9L3176.0 736.9L3177.7 737.8L3182.4 737.9L3184.5 740.0L3186.2 739.5L3188.7 736.1L3189.3 728.9L3192.1 728.1L3193.8 725.9L3195.5 722.1L3197.2 725.9L3198.9 731.5L3201.2 738.9L3204.6 738.9L3205.4 743.4L3208.0 743.7L3209.5 741.2L3211.4 743.4L3214.3 745.9L3227.9 745.9L3229.6 746.8L3237.2 747.1L3239.8 748.8L3240.6 747.4L3243.2 746.8L3244.9 747.6L3247.4 748.1L3249.1 748.8L3256.8 748.8L3257.6 747.8L3263.6 747.8L3264.4 748.8L3270.4 748.8L3271.2 750.0L3298.4 750.0L3299.3 748.8L3302.7 748.5L3303.9 747.6L3306.1 747.8L3307.3 748.6L3310.7 748.8L3311.2 750.0L3321.4 750.0L3322.2 748.8L3328.7 748.8L3329.4 750.0L3337.6 750.0L3338.4 748.8L3341.8 748.5L3343.5 747.1L3346.1 746.1L3347.8 746.8L3351.2 747.1L3353.7 748.3L3357.1 748.8L3358.0 750.0L3360.0 750.0L3361.0 750.0L3361.0 749.0L3363.5 746.0L3366.4 744.6L3368.6 744.9L3370.1 746.3L3373.0 746.6L3374.0 749.0L3374.0 750.0L3410.1 750.0L3410.2 749.0L3411.8 749.0L3411.8 750.0Z" fill="#1A9850" shape-rendering="crispEdges"/>
<rect x="458.0" y="750.00" width="3095.8" height="1" fill="#000"/>
<path d="M618.0 928.0L618.0 927.0L622.4 927.0L623.2 925.9L625.5 925.9L626.3 927.0L636.7 927.0L637.5 925.9L638.8 925.1L640.1 925.9L643.2 925.9L643.9 927.0L653.0 927.0L653.8 925.9L655.6 925.9L656.4 927.0L668.8 927.0L668.8 928.0L674.3 928.0L674.3 927.0L677.7 927.0L678.4 925.9L680.2 925.1L682.1 925.1L683.4 925.9L684.1 927.0L693.7 927.0L694.5 925.9L695.5 925.1L696.3 925.9L701.5 925.9L702.3 927.0L708.0 927.0L708.0 928.0L715.0 928.0L715.0 927.0L716.3 925.9L717.6 924.9L721.7 924.9L722.5 925.9L723.6 927.0L724.9 927.0L724.9 928.0L748.2 928.0L748.3 927.0L761.6 927.0L761.7 928.0L784.0 928.0L784.0 927.0L796.2 927.0L797.0 925.9L798.0 924.9L805.2 924.9L806.0 925.9L807.1 927.0L812.0 927.0L812.0 928.0L839.0 928.0L839.0 927.0L846.7 927.0L847.5 925.9L850.6 925.9L851.4 925.1L852.2 925.9L859.7 925.9L860.5 927.0L868.8 927.0L869.6 925.9L871.6 925.9L872.4 927.0L877.1 927.0L877.1 928.0L881.0 928.0L881.0 927.0L884.3 927.0L885.1 925.9L893.4 925.9L894.2 927.0L899.9 927.0L899.9 928.0L927.1 928.0L927.3 927.0L966.7 927.0L966.8 928.0L984.2 928.0L984.3 927.0L995.7 927.0L995.9 928.0L1017.9 928.0L1018.0 927.0L1025.6 927.0L1025.7 928.0L1041.2 928.0L1041.2 927.0L1042.0 925.9L1046.4 925.9L1047.2 924.9L1050.3 924.9L1051.1 925.9L1051.6 927.0L1064.1 927.0L1064.1 928.0L1078.8 928.0L1078.8 927.0L1085.9 927.0L1086.4 926.2L1086.9 927.0L1100.9 927.0L1101.7 925.9L1109.5 925.9L1110.2 927.0L1117.0 927.0L1117.0 928.0L1126.0 928.0L1126.2 927.0L1135.8 927.0L1135.9 928.0L1148.1 928.0L1148.2 927.0L1152.6 927.0L1152.8 928.0L1166.2 928.0L1166.4 927.0L1187.6 927.0L1187.8 928.0L1191.7 928.0L1192.6 926.8L1200.5 926.8L1201.2 928.0L1203.3 928.0L1203.9 926.8L1209.6 926.8L1211.3 924.9L1214.1 924.4L1215.2 920.9L1220.3 920.7L1223.2 918.5L1226.1 915.6L1228.3 912.2L1230.5 907.1L1232.0 902.8L1234.2 901.8L1236.8 903.2L1240.2 906.6L1241.0 903.2L1245.3 902.8L1248.7 907.1L1250.9 912.2L1252.9 917.8L1255.5 917.8L1257.5 914.7L1260.6 918.1L1264.0 921.5L1267.4 923.7L1269.6 920.7L1271.6 916.4L1272.8 909.6L1274.2 897.7L1275.9 893.5L1277.6 888.4L1279.3 882.8L1280.5 883.3L1281.5 877.0L1283.2 874.3L1284.7 873.9L1285.6 878.2L1287.8 880.7L1290.3 885.0L1291.5 893.5L1292.9 900.8L1295.8 900.8L1297.1 896.9L1298.5 900.8L1300.2 900.8L1302.2 896.0L1303.4 890.9L1305.3 895.2L1306.5 898.1L1308.7 898.1L1309.6 894.7L1310.4 899.1L1311.6 902.0L1313.3 908.8L1315.0 913.9L1316.7 916.4L1320.1 919.5L1322.7 915.6L1324.7 912.2L1326.1 907.9L1329.5 907.9L1330.3 908.8L1332.9 908.8L1334.6 913.0L1336.6 915.6L1339.3 918.5L1340.5 920.7L1343.1 921.9L1347.8 921.9L1348.5 916.4L1350.2 909.6L1352.4 911.0L1354.6 909.6L1356.3 906.6L1357.5 904.9L1358.7 909.6L1360.1 913.9L1362.6 913.5L1363.5 911.8L1364.7 912.2L1365.2 916.4L1367.7 919.8L1370.3 922.4L1372.8 923.2L1376.2 923.7L1377.9 922.7L1379.6 923.2L1381.3 924.4L1384.7 925.3L1387.3 926.8L1388.1 928.0L1408.5 928.0L1409.4 926.8L1433.2 926.8L1434.0 928.0L1439.7 928.0L1440.5 926.8L1449.4 926.8L1450.2 925.8L1452.8 924.9L1454.5 923.7L1457.0 923.7L1457.9 924.6L1460.4 924.9L1463.8 926.3L1464.7 926.8L1474.9 926.8L1475.4 924.9L1483.9 924.9L1484.6 926.0L1485.9 924.9L1486.8 922.9L1488.5 923.7L1491.9 923.7L1492.7 924.6L1495.3 924.9L1497.0 926.0L1497.8 926.8L1499.9 926.8L1500.9 924.9L1505.5 924.6L1507.2 923.6L1508.9 922.7L1510.6 924.3L1515.2 924.6L1516.2 926.8L1518.2 926.8L1519.1 928.0L1524.7 928.0L1525.9 926.1L1530.1 925.8L1531.0 924.9L1537.8 924.9L1538.6 923.7L1540.0 924.9L1542.0 924.4L1542.6 922.7L1545.4 922.7L1546.3 922.0L1548.0 922.7L1549.7 921.7L1551.4 922.9L1553.9 924.9L1555.6 926.1L1556.5 927.0L1559.9 927.0L1560.7 925.8L1565.9 925.8L1567.2 924.6L1568.4 925.3L1570.1 927.0L1581.2 927.0L1582.0 925.8L1590.0 925.8L1590.7 928.0L1590.7 925.6L1591.3 924.7L1601.4 924.7L1602.6 925.6L1603.8 926.8L1615.7 926.8L1615.7 928.0L1621.1 928.0L1621.1 926.8L1635.1 926.8L1636.0 925.6L1640.4 925.6L1641.3 924.7L1643.1 924.7L1644.0 925.6L1646.1 925.6L1647.0 926.8L1661.0 926.8L1661.0 928.0L1666.9 928.0L1666.9 926.8L1673.8 926.8L1674.3 925.9L1675.2 926.8L1693.7 926.8L1693.7 928.0L1710.1 928.0L1710.1 926.8L1716.9 926.8L1717.5 925.9L1718.4 926.8L1722.9 926.8L1722.9 928.0L1730.0 928.0L1730.1 926.8L1743.8 926.8L1744.0 928.0L1753.2 928.0L1753.2 926.8L1763.0 926.8L1763.9 925.6L1765.1 924.7L1773.5 924.7L1774.3 925.6L1775.8 926.8L1778.8 926.8L1778.8 928.0L1783.9 928.0L1784.0 926.8L1795.6 926.8L1795.8 928.0L1799.3 928.0L1799.3 926.8L1805.6 926.8L1806.5 925.6L1808.6 925.6L1809.5 926.8L1812.1 926.8L1813.0 925.6L1814.5 924.7L1815.7 925.6L1817.2 924.7L1818.7 925.6L1822.3 925.6L1823.2 926.8L1851.7 926.8L1851.7 928.0L1864.2 928.0L1864.4 926.8L1877.5 926.8L1877.6 928.0L1893.1 928.0L1893.1 926.8L1904.4 926.8L1905.3 925.6L1906.8 925.6L1907.7 926.8L1908.6 925.6L1909.8 924.7L1911.0 925.6L1913.3 925.6L1914.2 926.8L1924.6 926.8L1924.6 928.0L1934.2 928.0L1934.3 926.8L1952.5 926.8L1952.6 928.0L1960.4 928.0L1960.4 926.8L1974.9 926.8L1975.5 925.9L1976.4 926.8L2022.0 926.8L2022.0 928.0L2038.3 928.0L2038.3 926.8L2044.3 926.8L2045.2 925.6L2051.7 925.6L2052.6 926.8L2055.3 926.8L2055.3 928.0L2060.1 928.0L2060.2 926.8L2073.9 926.8L2074.0 928.0L2082.4 928.0L2082.5 926.8L2087.0 926.8L2087.1 928.0L2135.1 928.0L2135.2 926.8L2141.8 926.8L2141.9 928.0L2147.0 928.0L2147.1 926.8L2156.6 926.8L2156.8 928.0L2171.7 928.0L2171.8 926.8L2192.1 926.8L2192.2 928.0L2195.2 928.0L2195.2 926.8L2198.5 926.8L2199.3 925.6L2203.5 925.6L2204.4 926.8L2205.6 926.8L2206.5 925.6L2215.4 925.6L2216.3 926.8L2217.2 926.8L2217.2 928.0L2232.1 928.0L2232.2 926.8L2239.4 926.8L2239.5 928.0L2250.2 928.0L2250.4 926.8L2279.9 926.8L2280.0 928.0L2280.0 925.6L2284.3 925.6L2285.2 926.8L2288.5 926.8L2289.3 925.6L2290.8 925.6L2291.4 926.8L2295.3 926.8L2295.9 925.6L2297.7 925.6L2298.6 926.8L2312.6 926.8L2313.5 925.6L2328.0 925.6L2328.9 926.8L2331.9 926.8L2332.5 925.6L2334.6 925.6L2335.5 926.8L2346.8 926.8L2348.0 925.6L2349.8 924.7L2352.7 924.7L2353.9 925.6L2358.1 926.8L2359.3 926.8L2359.3 928.0L2364.0 928.0L2364.0 926.8L2373.6 926.8L2374.5 925.6L2377.7 925.6L2378.6 924.7L2381.6 924.7L2382.5 925.6L2388.5 925.6L2389.3 926.8L2395.0 926.8L2395.0 928.0L2401.8 928.0L2402.0 926.8L2407.6 926.8L2407.8 928.0L2414.0 928.0L2414.0 926.8L2415.2 925.6L2417.3 924.7L2422.7 924.7L2424.2 925.9L2426.8 926.8L2426.8 928.0L2441.7 928.0L2441.9 926.8L2448.7 926.8L2448.9 928.0L2459.9 928.0L2460.0 926.8L2476.7 926.8L2476.8 928.0L2492.6 928.0L2492.6 926.8L2498.6 926.8L2499.2 925.9L2499.8 926.8L2542.6 926.8L2542.6 928.0L2554.8 928.0L2555.0 926.8L2563.9 926.8L2564.0 928.0L2595.9 928.0L2595.9 926.8L2601.8 926.8L2602.4 925.9L2603.3 926.8L2605.4 925.6L2607.2 924.4L2608.7 925.6L2613.8 925.9L2615.2 926.8L2615.2 928.0L2626.2 928.0L2626.4 926.8L2639.8 926.8L2639.9 928.0L2653.9 928.0L2653.9 926.8L2670.3 926.8L2671.2 925.6L2674.2 925.6L2675.1 926.8L2690.2 926.8L2691.1 925.6L2697.1 925.6L2698.0 924.7L2698.9 925.6L2700.1 926.8L2704.5 926.8L2704.5 928.0L2709.9 928.0L2709.9 926.8L2728.3 926.8L2729.8 925.6L2734.3 924.7L2736.1 923.8L2737.3 924.7L2744.7 924.7L2746.2 926.2L2752.1 926.2L2753.6 924.7L2762.6 924.7L2764.0 926.2L2768.8 926.8L2768.8 928.0L2780.1 928.0L2780.3 926.8L2789.8 926.8L2789.9 928.0L2791.1 928.0L2791.1 926.8L2817.6 926.8L2819.1 925.6L2822.1 924.7L2823.6 923.8L2824.5 924.7L2828.0 924.7L2828.9 925.9L2832.5 926.8L2832.5 928.0L2844.1 928.0L2844.3 926.8L2856.8 926.8L2856.9 928.0L2866.1 928.0L2866.1 926.8L2869.7 926.5L2870.6 925.6L2874.2 925.6L2875.1 926.8L2878.6 926.8L2878.6 928.0L2884.0 928.0L2884.1 926.8L2892.8 926.8L2892.9 928.0L2898.9 928.0L2899.0 926.8L2905.9 926.8L2906.0 928.0L2915.8 928.0L2915.8 926.8L2917.3 925.6L2918.8 924.7L2927.1 924.7L2928.3 926.8L2936.7 926.8L2938.2 925.6L2942.0 924.7L2948.6 924.7L2950.1 926.5L2956.9 926.8L2956.9 928.0L2961.7 928.0L2962.6 926.8L2966.0 926.8L2966.8 924.9L2972.8 924.9L2975.0 926.8L2987.2 926.8L2988.9 926.0L2991.5 924.9L3001.7 924.9L3002.5 925.8L3004.6 925.8L3005.6 924.9L3011.0 924.9L3012.7 923.7L3014.4 924.6L3017.0 924.9L3018.7 926.3L3022.9 926.8L3025.5 925.4L3027.2 922.0L3029.7 918.3L3033.1 915.8L3035.7 913.5L3037.9 913.5L3038.7 909.3L3041.3 905.0L3043.3 902.5L3045.0 893.1L3047.6 891.4L3051.8 890.1L3053.0 889.7L3054.4 885.0L3055.2 886.8L3056.4 886.0L3057.8 889.7L3058.6 891.9L3059.8 883.8L3061.2 878.7L3062.4 875.8L3064.6 879.5L3067.1 884.1L3069.7 888.0L3071.4 892.3L3073.4 903.9L3075.6 903.9L3076.5 900.8L3077.3 903.9L3079.0 903.9L3080.7 899.9L3082.4 886.0L3084.1 885.5L3085.9 876.1L3087.9 865.9L3090.1 861.7L3091.3 860.8L3093.8 860.8L3094.4 870.5L3096.9 874.4L3098.6 877.8L3100.3 881.7L3101.2 890.2L3103.7 890.9L3105.9 886.8L3107.1 888.4L3108.3 882.9L3110.5 877.0L3112.2 864.2L3113.9 861.7L3115.1 842.1L3116.8 832.8L3118.2 825.1L3119.9 824.3L3120.7 810.7L3122.4 801.3L3124.1 798.4L3125.8 796.7L3127.0 799.6L3127.5 788.5L3128.5 779.7L3129.7 786.0L3130.9 798.7L3132.1 786.0L3133.1 789.4L3134.3 784.3L3136.0 780.9L3136.5 772.7L3137.2 780.0L3138.6 782.6L3139.4 788.5L3140.8 797.9L3142.8 799.6L3144.9 801.3L3145.4 821.7L3147.1 826.0L3149.6 830.2L3150.5 846.4L3152.2 856.6L3153.9 870.2L3155.6 877.0L3157.3 885.5L3159.0 888.9L3160.3 889.4L3161.9 888.0L3164.1 897.4L3166.1 905.0L3169.2 902.1L3173.4 901.8L3176.0 900.1L3178.5 899.9L3181.1 904.2L3182.8 907.6L3184.5 911.0L3186.5 912.2L3188.7 910.1L3192.1 909.6L3193.8 907.9L3195.5 907.9L3196.7 914.4L3198.9 916.9L3200.6 920.3L3203.2 922.9L3204.9 924.3L3209.1 924.9L3211.4 926.8L3212.6 928.0L3214.6 928.0L3216.8 926.3L3220.2 924.9L3224.5 923.7L3227.9 924.6L3235.5 924.9L3237.2 925.8L3239.8 925.8L3243.2 923.7L3245.7 922.4L3249.1 921.5L3251.7 920.7L3253.4 921.2L3255.9 923.7L3260.7 924.1L3261.9 924.9L3270.4 924.9L3272.9 925.8L3276.7 926.0L3277.7 926.8L3285.7 926.8L3286.5 925.8L3287.4 926.8L3289.9 926.8L3290.8 925.8L3293.3 925.8L3294.2 926.8L3295.0 925.8L3295.9 926.8L3304.4 926.8L3305.2 928.0L3318.8 928.0L3319.7 926.8L3329.9 926.8L3330.7 928.0L3336.7 928.0L3337.6 926.8L3345.7 926.8L3346.4 928.0L3349.5 928.0L3350.3 926.8L3360.0 926.3L3360.1 928.0L3360.2 927.0L3365.9 927.0L3366.0 928.0L3374.9 928.0L3374.9 927.0L3376.7 925.1L3381.8 924.8L3383.3 926.2L3384.7 927.0L3384.7 928.0L3391.0 928.0L3391.1 927.0L3396.8 927.0L3396.9 928.0L3405.0 928.0L3405.0 927.0L3412.8 927.0L3412.9 928.0Z" fill="#8C510A" shape-rendering="crispEdges"/>
<rect x="458.0" y="928.00" width="3095.8" height="1" fill="#000"/>
<path d="M624.2 1106.0L624.4 1105.0L632.7 1105.0L632.8 1106.0L637.2 1106.0L637.3 1105.0L643.6 1105.0L643.7 1106.0L648.1 1106.0L648.1 1105.0L656.1 1105.0L656.9 1103.9L660.0 1103.9L660.8 1102.9L662.6 1102.9L663.1 1102.1L663.9 1102.9L667.0 1102.9L667.8 1103.9L669.1 1105.0L669.9 1105.0L669.9 1106.0L675.1 1106.0L675.2 1105.0L683.5 1105.0L683.6 1106.0L692.2 1106.0L692.3 1105.0L698.8 1105.0L698.9 1106.0L712.1 1106.0L712.3 1105.0L719.5 1105.0L719.7 1106.0L735.2 1106.0L735.4 1105.0L752.7 1105.0L752.9 1106.0L785.3 1106.0L785.4 1105.0L790.3 1105.0L790.5 1106.0L794.4 1106.0L794.5 1105.0L805.6 1105.0L805.8 1106.0L809.9 1106.0L809.9 1105.0L812.5 1105.0L813.3 1103.9L819.5 1103.9L820.3 1105.0L822.9 1105.0L822.9 1106.0L848.0 1106.0L848.2 1105.0L850.5 1105.0L850.6 1106.0L868.3 1106.0L868.4 1105.0L876.7 1105.0L876.8 1106.0L893.2 1106.0L893.3 1105.0L896.7 1105.0L896.8 1106.0L900.2 1106.0L900.3 1105.0L902.6 1105.0L902.8 1106.0L905.4 1106.0L905.5 1105.0L907.8 1105.0L907.9 1106.0L929.2 1106.0L929.3 1105.0L936.9 1105.0L937.0 1106.0L951.0 1106.0L951.1 1105.0L951.6 1105.0L951.8 1106.0L954.4 1106.0L954.4 1105.0L957.7 1105.0L958.5 1103.9L959.8 1103.9L960.6 1105.0L966.8 1105.0L966.8 1106.0L1002.3 1106.0L1002.5 1105.0L1029.7 1105.0L1029.8 1106.0L1090.0 1106.0L1090.1 1105.0L1090.6 1105.0L1090.8 1106.0L1096.2 1106.0L1096.4 1105.0L1107.8 1105.0L1107.9 1106.0L1119.0 1106.0L1119.2 1105.0L1119.7 1105.0L1119.8 1106.0L1146.3 1106.0L1146.3 1105.0L1147.1 1103.9L1155.9 1103.9L1156.6 1105.0L1161.8 1105.0L1162.4 1104.2L1162.9 1105.0L1170.9 1105.0L1170.9 1106.0L1198.8 1106.0L1199.7 1104.8L1204.5 1104.5L1205.3 1103.6L1206.7 1104.8L1210.4 1104.5L1212.4 1102.8L1216.4 1102.6L1218.1 1101.6L1220.3 1101.4L1222.7 1098.9L1224.4 1092.9L1226.6 1089.5L1228.3 1083.6L1230.0 1077.6L1231.7 1076.4L1232.9 1070.8L1234.2 1064.0L1238.5 1064.0L1240.7 1062.6L1241.5 1060.6L1242.4 1063.1L1243.6 1063.1L1244.8 1066.5L1247.0 1069.1L1248.7 1073.3L1249.5 1080.1L1251.2 1087.0L1253.3 1092.9L1254.6 1097.2L1257.2 1101.7L1264.0 1101.7L1265.7 1103.4L1268.6 1103.4L1270.8 1100.6L1272.8 1095.5L1275.0 1089.5L1276.2 1081.0L1277.2 1069.9L1279.3 1066.5L1281.0 1060.6L1282.7 1058.9L1284.7 1056.7L1286.6 1058.9L1287.4 1066.5L1288.6 1071.6L1290.3 1074.2L1292.0 1080.1L1292.9 1086.1L1294.3 1081.9L1298.8 1081.9L1300.0 1079.3L1300.5 1073.3L1301.9 1070.8L1302.6 1063.1L1303.6 1061.4L1304.3 1056.7L1305.3 1062.3L1307.3 1060.6L1308.5 1061.4L1309.6 1065.7L1310.4 1075.0L1311.6 1084.4L1313.3 1089.5L1315.0 1093.8L1316.7 1097.2L1318.4 1099.7L1320.6 1095.5L1322.7 1092.6L1324.9 1089.5L1326.9 1090.9L1329.1 1092.6L1332.0 1094.1L1334.6 1098.9L1337.6 1100.6L1338.8 1101.9L1341.9 1101.9L1343.1 1100.9L1344.4 1101.9L1346.1 1101.4L1347.8 1097.2L1349.0 1090.4L1349.9 1087.0L1352.4 1085.8L1355.0 1085.8L1356.7 1086.6L1359.2 1087.0L1360.6 1089.5L1361.4 1087.8L1365.7 1087.8L1366.9 1092.9L1368.9 1096.3L1371.1 1100.6L1373.7 1101.4L1374.5 1102.6L1377.1 1102.8L1378.8 1103.6L1383.0 1104.0L1383.9 1104.8L1398.3 1104.8L1399.2 1106.0L1408.9 1106.0L1409.7 1104.8L1417.0 1104.8L1417.9 1103.6L1418.7 1104.8L1423.0 1104.8L1423.8 1103.8L1430.6 1103.8L1431.5 1104.8L1433.5 1104.8L1434.2 1106.0L1441.7 1106.0L1442.6 1104.8L1445.1 1104.5L1446.0 1103.6L1451.6 1103.6L1452.4 1104.8L1463.0 1104.8L1464.7 1103.1L1465.5 1101.7L1468.9 1101.7L1469.8 1102.8L1479.1 1102.8L1480.0 1103.8L1495.8 1103.8L1496.5 1104.8L1498.2 1104.8L1498.7 1103.8L1500.4 1102.8L1501.6 1103.8L1518.6 1103.8L1519.9 1102.8L1520.8 1101.7L1524.7 1101.7L1525.4 1102.8L1529.3 1102.8L1530.1 1104.8L1533.5 1104.8L1534.4 1106.0L1535.7 1106.0L1536.6 1104.8L1539.5 1104.5L1542.0 1103.6L1543.7 1100.6L1545.1 1094.6L1547.1 1092.9L1548.8 1091.2L1551.4 1089.8L1553.6 1087.8L1554.8 1091.2L1555.6 1095.5L1557.3 1096.6L1559.9 1097.2L1561.6 1099.7L1562.8 1104.8L1565.9 1104.8L1566.7 1103.6L1570.1 1103.6L1571.0 1102.8L1574.4 1102.8L1575.2 1103.6L1578.6 1103.8L1579.5 1104.8L1582.9 1104.8L1583.4 1103.8L1584.2 1104.8L1587.1 1104.8L1588.0 1104.0L1590.0 1104.0L1590.4 1106.0L1590.4 1102.7L1592.5 1103.6L1600.2 1103.6L1601.4 1104.8L1603.8 1104.8L1603.8 1106.0L1615.1 1106.0L1615.3 1104.8L1640.6 1104.8L1640.7 1106.0L1650.8 1106.0L1650.8 1104.8L1668.7 1104.8L1669.6 1103.6L1678.8 1103.6L1679.7 1104.8L1680.6 1103.6L1682.7 1103.6L1683.6 1104.8L1685.7 1103.6L1687.1 1101.8L1688.3 1102.7L1690.7 1102.7L1691.6 1103.6L1695.5 1103.6L1696.4 1104.8L1707.4 1104.8L1707.4 1106.0L1711.0 1106.0L1711.0 1104.8L1725.2 1104.8L1725.8 1103.6L1727.0 1103.6L1727.9 1104.8L1728.8 1104.8L1728.8 1106.0L1733.9 1106.0L1734.0 1104.8L1753.7 1104.8L1753.8 1106.0L1766.0 1106.0L1766.0 1104.8L1772.9 1104.8L1773.8 1103.6L1781.8 1103.6L1782.7 1104.8L1793.7 1104.8L1793.7 1106.0L1812.1 1106.0L1812.3 1104.8L1821.8 1104.8L1822.0 1106.0L1830.0 1106.0L1830.1 1104.8L1835.8 1104.8L1836.0 1106.0L1838.9 1106.0L1839.1 1104.8L1849.8 1104.8L1849.9 1106.0L1866.3 1106.0L1866.3 1104.8L1869.3 1104.8L1870.2 1103.6L1875.5 1103.6L1876.7 1104.8L1877.9 1104.8L1877.9 1106.0L1907.4 1106.0L1907.5 1104.8L1923.6 1104.8L1923.8 1106.0L1938.0 1106.0L1938.0 1104.8L1943.1 1104.8L1944.0 1103.6L1946.1 1103.6L1947.0 1104.8L1949.9 1104.8L1949.9 1106.0L1972.3 1106.0L1972.4 1104.8L1980.7 1104.8L1980.9 1106.0L1982.7 1106.0L1982.8 1104.8L1983.4 1104.8L1983.6 1106.0L2008.0 1106.0L2008.1 1104.8L2012.9 1104.8L2013.0 1106.0L2041.0 1106.0L2041.0 1104.8L2062.1 1104.8L2063.6 1103.6L2065.7 1101.8L2069.6 1101.8L2071.1 1102.7L2074.6 1102.7L2076.4 1103.9L2083.0 1104.8L2083.9 1103.6L2085.1 1104.8L2086.8 1103.6L2091.9 1103.6L2092.8 1104.8L2096.7 1104.8L2096.7 1106.0L2103.2 1106.0L2103.4 1104.8L2104.9 1104.8L2105.0 1106.0L2108.3 1106.0L2108.4 1104.8L2116.8 1104.8L2116.9 1106.0L2143.1 1106.0L2143.2 1104.8L2151.6 1104.8L2151.7 1106.0L2173.2 1106.0L2173.3 1104.8L2182.5 1104.8L2182.7 1106.0L2240.1 1106.0L2240.3 1104.8L2249.8 1104.8L2249.9 1106.0L2260.1 1106.0L2260.2 1104.8L2273.3 1104.8L2273.5 1106.0L2273.5 1104.8L2273.7 1104.8L2273.9 1106.0L2347.4 1106.0L2347.4 1104.8L2349.8 1104.8L2350.7 1103.6L2354.2 1103.6L2355.1 1104.8L2358.1 1104.8L2358.1 1106.0L2376.2 1106.0L2376.4 1104.8L2381.8 1104.8L2381.9 1106.0L2401.8 1106.0L2402.0 1104.8L2402.6 1104.8L2402.7 1106.0L2422.1 1106.0L2422.2 1104.8L2424.6 1104.8L2424.8 1106.0L2453.0 1106.0L2453.0 1104.8L2470.9 1104.8L2471.8 1103.6L2473.9 1103.6L2474.8 1104.8L2479.8 1104.8L2479.8 1106.0L2483.1 1106.0L2483.2 1104.8L2483.8 1104.8L2484.0 1106.0L2491.1 1106.0L2491.3 1104.8L2496.9 1104.8L2497.1 1106.0L2511.1 1106.0L2511.1 1104.8L2518.5 1104.8L2519.4 1103.6L2524.5 1103.6L2525.4 1104.8L2528.0 1104.8L2528.0 1106.0L2548.3 1106.0L2548.4 1104.8L2562.7 1104.8L2562.9 1106.0L2566.1 1106.0L2566.3 1104.8L2566.9 1104.8L2567.0 1106.0L2581.0 1106.0L2581.0 1104.8L2582.5 1103.6L2587.9 1103.6L2588.8 1104.8L2590.2 1104.8L2590.2 1106.0L2594.1 1106.0L2594.3 1104.8L2595.7 1104.8L2595.9 1106.0L2622.1 1106.0L2622.2 1104.8L2622.8 1104.8L2623.0 1106.0L2627.1 1106.0L2627.3 1104.8L2629.4 1104.8L2629.5 1106.0L2633.1 1106.0L2633.2 1104.8L2641.9 1104.8L2642.0 1106.0L2667.3 1106.0L2667.5 1104.8L2674.6 1104.8L2674.8 1106.0L2683.1 1106.0L2683.1 1104.8L2688.8 1104.8L2689.6 1103.6L2698.0 1103.6L2698.9 1104.8L2701.0 1104.8L2701.0 1106.0L2709.9 1106.0L2709.9 1104.8L2714.3 1104.8L2715.2 1103.6L2717.3 1103.6L2718.2 1104.8L2727.7 1104.8L2728.6 1103.6L2741.7 1103.6L2742.6 1104.8L2746.2 1104.8L2746.2 1106.0L2753.0 1106.0L2753.2 1104.8L2762.7 1104.8L2762.9 1106.0L2775.4 1106.0L2775.5 1104.8L2782.6 1104.8L2782.8 1106.0L2791.1 1106.0L2791.3 1104.8L2799.6 1104.8L2799.8 1106.0L2819.1 1106.0L2819.3 1104.8L2828.5 1104.8L2828.6 1106.0L2855.1 1106.0L2855.3 1104.8L2859.7 1104.8L2859.9 1106.0L2872.1 1106.0L2872.2 1104.8L2883.5 1104.8L2883.7 1106.0L2891.1 1106.0L2891.3 1104.8L2891.9 1104.8L2892.0 1106.0L2930.1 1106.0L2930.1 1104.8L2932.2 1103.6L2936.1 1103.6L2937.0 1104.8L2941.1 1104.8L2941.1 1106.0L2946.2 1106.0L2946.3 1104.8L2954.7 1104.8L2954.8 1106.0L2967.7 1106.0L2968.5 1104.8L2990.6 1104.8L2992.0 1103.1L2994.0 1102.8L2995.4 1104.0L2997.1 1102.8L2998.3 1104.0L2999.5 1102.8L3001.7 1104.0L3004.6 1104.0L3005.6 1102.8L3008.5 1102.6L3009.7 1101.7L3016.1 1101.7L3017.5 1102.8L3031.4 1102.8L3033.5 1100.6L3035.7 1098.9L3038.2 1096.8L3039.6 1092.1L3041.6 1091.2L3042.8 1089.8L3045.9 1089.8L3046.7 1088.7L3048.4 1090.7L3050.1 1091.7L3051.8 1090.7L3052.7 1087.8L3055.2 1087.3L3057.8 1086.6L3059.8 1082.7L3061.2 1075.9L3062.4 1069.9L3063.7 1068.8L3065.1 1069.9L3066.3 1068.8L3068.5 1069.9L3069.7 1074.2L3070.5 1078.4L3071.7 1088.7L3073.1 1091.7L3075.3 1093.8L3077.0 1094.9L3079.0 1093.4L3080.4 1091.7L3081.1 1086.6L3082.4 1081.0L3084.1 1079.3L3085.0 1074.2L3087.2 1070.3L3089.3 1064.8L3091.5 1061.8L3092.7 1064.8L3094.4 1068.2L3096.6 1071.6L3097.2 1079.8L3099.5 1083.2L3102.0 1089.5L3103.4 1093.8L3105.1 1090.7L3105.9 1092.9L3107.6 1092.6L3108.5 1087.0L3110.2 1076.7L3111.9 1075.9L3112.7 1068.2L3114.3 1051.2L3115.6 1037.6L3116.8 1027.4L3117.8 1020.6L3119.0 1018.9L3119.5 1002.8L3120.7 995.1L3123.3 992.6L3125.8 990.0L3127.5 988.3L3129.6 985.8L3130.1 993.4L3131.3 1003.6L3132.6 1001.9L3134.0 1000.2L3134.7 991.7L3135.5 995.1L3136.9 988.3L3138.6 981.5L3139.1 989.2L3141.1 990.9L3142.8 993.4L3143.7 995.1L3144.2 1003.6L3145.4 1010.4L3146.6 1022.3L3147.9 1037.6L3149.1 1047.8L3150.1 1057.2L3151.8 1060.6L3153.5 1064.0L3154.4 1078.4L3156.4 1086.1L3160.7 1087.8L3163.2 1092.1L3165.8 1093.4L3167.8 1094.9L3169.2 1087.8L3174.6 1087.8L3175.6 1090.7L3177.7 1092.9L3179.4 1097.2L3181.1 1100.6L3187.9 1100.6L3189.6 1096.8L3190.8 1093.8L3193.0 1093.4L3194.4 1091.2L3196.1 1090.7L3197.8 1092.9L3199.8 1095.1L3200.6 1098.5L3203.2 1100.6L3204.9 1101.4L3207.4 1100.6L3209.1 1101.7L3212.6 1102.6L3215.1 1104.5L3220.2 1104.5L3221.1 1103.6L3221.9 1104.8L3225.3 1104.8L3226.2 1104.0L3229.6 1104.0L3230.4 1104.8L3235.5 1104.8L3236.4 1104.0L3237.2 1104.8L3241.5 1104.8L3242.3 1104.0L3249.1 1104.0L3250.0 1104.8L3255.9 1104.8L3256.8 1104.0L3264.4 1104.0L3265.3 1104.8L3273.8 1104.8L3274.6 1106.0L3282.3 1106.0L3283.1 1104.8L3289.1 1104.8L3289.9 1104.0L3290.8 1104.8L3300.1 1104.8L3301.0 1104.0L3302.7 1104.8L3306.9 1104.8L3307.8 1104.0L3309.0 1104.8L3313.7 1104.8L3314.6 1106.0L3318.8 1106.0L3319.7 1104.8L3323.1 1104.5L3324.8 1103.4L3327.3 1102.6L3329.9 1103.6L3333.3 1104.0L3334.1 1104.8L3339.3 1104.8L3340.1 1106.0L3353.7 1106.0L3354.6 1104.8L3358.0 1104.8L3358.8 1106.0L3370.1 1106.0L3370.1 1105.0L3373.7 1104.7L3374.5 1103.8L3380.8 1103.8L3381.5 1104.8L3385.9 1105.0L3385.9 1106.0L3396.9 1106.0L3396.9 1105.0L3399.8 1104.7L3400.6 1103.8L3406.7 1103.8L3407.7 1105.0L3407.7 1106.0Z" fill="#F46D43" shape-rendering="crispEdges"/>
<rect x="458.0" y="1106.00" width="3095.8" height="1" fill="#000"/>
<path d="M603.0 1284.0L603.1 1283.0L608.8 1283.0L608.9 1284.0L615.9 1284.0L615.9 1283.0L618.0 1283.0L618.8 1281.9L624.5 1281.9L625.3 1283.0L628.9 1283.0L628.9 1284.0L641.1 1284.0L641.2 1283.0L646.9 1283.0L647.1 1284.0L682.1 1284.0L682.1 1283.0L682.6 1281.9L689.3 1281.9L690.6 1283.0L691.1 1284.0L720.2 1284.0L720.3 1283.0L721.9 1283.0L722.0 1284.0L726.9 1284.0L726.9 1283.0L732.6 1283.0L733.4 1284.0L734.7 1284.0L735.2 1281.9L743.8 1281.9L744.8 1283.0L745.1 1284.0L802.1 1284.0L802.1 1283.0L805.2 1283.0L806.0 1281.9L807.3 1281.9L808.1 1283.0L811.0 1283.0L811.0 1284.0L861.3 1284.0L861.4 1283.0L870.0 1283.0L870.1 1284.0L879.9 1284.0L880.1 1283.0L887.8 1283.0L888.0 1284.0L892.1 1284.0L892.1 1283.0L899.9 1283.0L900.4 1282.2L900.9 1283.0L907.9 1283.0L907.9 1284.0L986.0 1284.0L986.0 1283.0L988.1 1283.0L988.9 1281.9L995.9 1281.9L996.4 1284.0L1003.1 1284.0L1003.1 1283.0L1005.7 1283.0L1006.5 1281.9L1014.0 1281.9L1014.8 1283.0L1016.6 1283.0L1017.4 1281.9L1018.7 1281.9L1019.5 1283.0L1023.6 1283.0L1024.4 1281.9L1027.0 1281.9L1027.8 1281.1L1028.5 1281.9L1034.8 1281.9L1035.5 1283.0L1038.1 1283.0L1038.9 1281.9L1042.5 1281.9L1043.3 1283.0L1045.1 1283.0L1045.7 1284.0L1047.0 1284.0L1047.0 1283.0L1052.9 1283.0L1053.7 1281.9L1055.5 1281.9L1056.0 1281.1L1056.8 1281.9L1064.6 1281.9L1065.4 1283.0L1068.0 1283.0L1068.7 1281.9L1070.3 1281.9L1071.1 1283.0L1072.4 1283.0L1072.4 1284.0L1197.7 1284.0L1198.5 1283.0L1202.2 1283.0L1205.3 1280.1L1213.0 1280.1L1215.5 1281.8L1217.2 1283.0L1218.9 1283.0L1221.5 1279.2L1223.2 1275.0L1225.4 1274.5L1227.4 1269.0L1228.8 1266.8L1230.8 1267.3L1232.2 1265.6L1233.9 1263.9L1234.6 1259.7L1236.8 1261.0L1238.5 1259.7L1239.8 1260.5L1241.5 1258.0L1242.7 1259.7L1245.8 1259.7L1247.0 1260.5L1247.8 1258.0L1249.2 1260.0L1249.9 1266.5L1251.6 1269.0L1253.3 1273.3L1256.3 1275.0L1259.4 1277.5L1263.1 1278.9L1265.7 1280.6L1267.4 1281.4L1269.9 1277.5L1272.0 1275.0L1273.7 1272.9L1274.5 1263.1L1275.9 1256.3L1277.2 1243.5L1278.4 1235.9L1280.1 1233.3L1282.2 1230.8L1284.4 1234.5L1286.6 1239.3L1288.6 1244.4L1291.2 1247.8L1293.7 1252.0L1296.3 1257.1L1298.0 1260.5L1300.2 1263.9L1301.9 1258.8L1303.1 1252.9L1304.5 1247.8L1305.6 1252.9L1307.3 1255.4L1309.9 1258.0L1311.1 1263.1L1312.8 1266.5L1313.8 1278.9L1317.6 1278.9L1318.7 1275.5L1320.6 1274.5L1323.0 1272.4L1324.4 1267.3L1325.5 1262.2L1328.6 1262.2L1329.5 1263.9L1332.0 1264.3L1333.7 1268.2L1334.9 1275.8L1337.1 1277.0L1339.7 1278.4L1341.4 1280.1L1343.9 1275.5L1346.8 1274.1L1348.2 1268.2L1349.9 1257.1L1352.4 1256.3L1354.6 1255.4L1356.2 1248.1L1358.0 1249.5L1358.9 1255.4L1360.1 1257.1L1362.6 1258.8L1364.8 1260.0L1366.0 1264.8L1367.4 1272.4L1369.4 1277.5L1371.1 1282.1L1373.3 1283.0L1384.7 1283.0L1385.6 1284.0L1389.0 1284.0L1389.8 1283.0L1394.1 1283.0L1394.9 1282.0L1401.7 1282.0L1402.6 1280.9L1403.9 1282.0L1407.7 1282.0L1408.5 1283.0L1418.7 1283.0L1419.6 1282.0L1421.0 1283.0L1424.7 1283.0L1425.5 1282.0L1426.7 1283.0L1428.4 1283.0L1429.1 1284.0L1440.9 1284.0L1441.7 1283.0L1443.4 1280.1L1450.2 1280.1L1451.9 1282.8L1454.5 1283.0L1455.3 1284.0L1464.7 1284.0L1467.2 1280.9L1469.8 1278.0L1473.7 1272.9L1476.6 1270.7L1479.5 1268.2L1481.7 1270.7L1483.4 1273.3L1486.3 1272.4L1488.0 1275.0L1489.7 1278.0L1491.0 1277.2L1492.7 1277.2L1493.6 1279.7L1496.1 1283.1L1498.7 1283.1L1502.1 1282.6L1503.8 1281.4L1506.3 1280.1L1509.7 1279.7L1510.6 1278.0L1512.3 1278.0L1513.1 1277.2L1514.0 1278.0L1519.1 1278.0L1520.8 1280.1L1522.5 1282.0L1531.8 1282.0L1534.4 1280.6L1538.6 1279.7L1539.1 1276.2L1544.9 1276.2L1545.4 1270.7L1547.1 1268.2L1548.5 1269.9L1550.5 1268.2L1553.1 1266.8L1554.3 1268.2L1555.6 1274.1L1557.3 1275.8L1559.4 1277.9L1563.3 1278.0L1564.1 1282.0L1567.6 1282.0L1568.9 1280.9L1571.0 1281.3L1573.5 1282.6L1574.7 1283.1L1575.7 1284.0L1578.6 1284.0L1579.5 1283.1L1582.9 1282.8L1584.6 1279.2L1585.4 1278.0L1588.0 1277.5L1590.0 1277.0L1590.0 1284.0L1591.3 1284.0L1591.3 1276.3L1594.3 1276.9L1597.9 1278.0L1601.4 1279.8L1603.2 1281.6L1606.8 1281.9L1608.3 1284.0L1625.2 1284.0L1625.2 1282.8L1631.2 1282.8L1632.1 1281.6L1633.6 1281.6L1634.8 1282.8L1635.1 1284.0L1655.0 1284.0L1655.1 1282.8L1662.9 1282.8L1663.0 1284.0L1675.2 1284.0L1675.2 1282.8L1679.7 1282.8L1680.6 1281.6L1683.6 1281.6L1684.8 1282.8L1685.1 1284.0L1691.9 1284.0L1691.9 1282.8L1693.1 1281.6L1698.5 1281.6L1699.3 1282.8L1702.0 1282.8L1702.0 1284.0L1705.9 1284.0L1705.9 1282.8L1708.9 1282.8L1709.8 1281.6L1716.3 1281.6L1717.5 1282.8L1719.3 1282.8L1719.9 1284.0L1720.5 1284.0L1720.6 1282.8L1728.7 1282.8L1728.8 1284.0L1744.0 1284.0L1744.0 1281.6L1748.5 1281.6L1749.3 1282.8L1752.9 1282.8L1752.9 1284.0L1806.2 1284.0L1806.2 1281.6L1808.6 1281.6L1809.5 1282.8L1812.1 1282.8L1813.0 1281.6L1814.5 1281.6L1815.7 1282.8L1816.3 1284.0L1828.2 1284.0L1828.2 1282.8L1829.4 1281.6L1831.5 1281.6L1832.4 1282.8L1834.8 1282.8L1835.7 1281.6L1837.7 1281.6L1838.6 1282.8L1841.3 1282.8L1842.2 1281.6L1843.7 1281.6L1844.6 1282.8L1847.9 1282.8L1847.9 1284.0L1854.1 1284.0L1854.3 1282.8L1859.9 1282.8L1860.1 1284.0L1937.1 1284.0L1937.3 1282.8L1942.1 1282.8L1942.2 1284.0L1972.9 1284.0L1973.0 1282.8L1979.0 1282.8L1979.1 1284.0L2013.0 1284.0L2013.0 1282.8L2016.9 1282.8L2017.8 1281.6L2020.5 1281.6L2021.4 1282.8L2025.5 1282.8L2026.4 1281.6L2030.0 1281.6L2030.9 1280.7L2033.6 1280.7L2034.8 1281.6L2036.2 1282.8L2039.8 1282.8L2039.8 1284.0L2090.1 1284.0L2090.3 1282.8L2091.8 1282.8L2091.9 1284.0L2095.2 1284.0L2095.2 1282.8L2095.8 1281.6L2097.0 1281.6L2097.6 1282.8L2099.3 1282.8L2100.2 1281.6L2103.2 1281.6L2103.8 1284.0L2173.2 1284.0L2173.3 1282.8L2176.9 1282.8L2177.0 1284.0L2240.1 1284.0L2240.3 1282.8L2241.5 1282.8L2241.6 1284.0L2271.5 1284.0L2271.5 1282.8L2274.5 1281.6L2290.2 1281.6L2291.4 1282.8L2293.2 1282.8L2293.2 1284.0L2328.6 1284.0L2328.6 1282.8L2334.0 1282.8L2334.9 1281.6L2337.0 1281.6L2337.9 1282.8L2339.0 1282.8L2339.0 1284.0L2352.7 1284.0L2352.7 1282.8L2359.3 1282.8L2360.2 1281.6L2362.9 1281.6L2363.8 1282.8L2365.2 1282.8L2365.2 1284.0L2367.0 1284.0L2367.0 1282.8L2376.5 1282.8L2377.4 1281.6L2384.6 1281.6L2385.5 1282.8L2389.0 1282.8L2389.0 1284.0L2398.9 1284.0L2399.0 1282.8L2407.6 1282.8L2407.8 1284.0L2421.8 1284.0L2421.9 1282.8L2422.5 1282.8L2422.7 1284.0L2423.9 1284.0L2424.0 1282.8L2430.0 1282.8L2430.1 1284.0L2440.8 1284.0L2440.8 1282.8L2445.6 1282.8L2446.5 1281.6L2448.0 1280.7L2450.4 1280.7L2451.5 1281.6L2454.5 1281.6L2456.0 1282.8L2456.0 1284.0L2464.9 1284.0L2465.1 1282.8L2471.9 1282.8L2472.1 1284.0L2487.0 1284.0L2487.1 1282.8L2492.8 1282.8L2492.9 1284.0L2578.9 1284.0L2579.1 1282.8L2587.1 1282.8L2587.3 1284.0L2589.9 1284.0L2589.9 1281.6L2615.2 1281.6L2616.1 1282.8L2634.9 1282.8L2634.9 1284.0L2727.7 1284.0L2727.9 1282.8L2735.9 1282.8L2736.1 1284.0L2753.0 1284.0L2753.2 1282.8L2754.7 1282.8L2754.8 1284.0L2826.0 1284.0L2826.0 1282.8L2834.9 1282.8L2835.5 1284.0L2837.0 1284.0L2837.0 1282.8L2837.9 1281.6L2843.8 1281.6L2844.7 1282.8L2851.8 1282.8L2852.7 1281.6L2854.8 1280.7L2856.3 1281.6L2884.0 1281.6L2884.6 1280.7L2885.5 1281.6L2888.5 1281.6L2889.6 1280.7L2892.6 1279.8L2899.5 1279.8L2901.0 1281.6L2906.3 1281.6L2907.5 1282.8L2907.8 1284.0L2960.0 1284.0L2960.0 1282.0L2961.7 1282.0L2963.1 1284.0L2972.8 1284.0L2973.6 1282.8L2977.0 1282.6L2977.9 1281.8L2979.0 1282.6L2982.1 1282.6L2983.5 1281.6L2986.4 1281.6L2987.2 1282.8L2997.4 1282.8L2999.1 1281.6L3000.8 1281.4L3002.5 1279.7L3005.6 1279.7L3006.8 1281.4L3009.3 1281.8L3010.2 1282.8L3013.6 1282.8L3014.4 1284.0L3023.8 1284.0L3025.5 1282.3L3028.0 1280.3L3030.6 1279.7L3031.4 1278.0L3034.8 1277.7L3035.7 1275.8L3039.9 1275.5L3042.0 1273.8L3044.2 1275.8L3052.7 1275.8L3053.5 1272.9L3056.1 1269.5L3058.6 1266.1L3060.3 1261.0L3062.0 1255.9L3063.2 1250.8L3065.1 1249.1L3067.5 1244.5L3068.8 1250.0L3070.5 1255.1L3071.7 1260.2L3073.1 1269.5L3075.3 1272.9L3077.3 1276.9L3079.9 1272.1L3082.4 1266.7L3084.1 1261.0L3085.3 1252.5L3086.7 1250.0L3087.9 1244.5L3089.3 1246.6L3090.6 1245.7L3091.3 1241.5L3092.1 1244.0L3093.2 1243.5L3094.4 1250.0L3095.5 1255.9L3096.9 1258.5L3098.1 1263.3L3100.3 1265.8L3101.5 1267.8L3102.5 1272.9L3104.2 1274.1L3106.3 1272.4L3108.0 1268.7L3109.1 1266.1L3110.2 1250.8L3111.4 1247.4L3112.6 1239.8L3113.6 1236.4L3114.4 1222.8L3115.6 1212.6L3116.8 1207.5L3118.2 1202.4L3119.5 1194.7L3120.7 1193.0L3121.6 1188.8L3122.4 1191.8L3123.6 1191.3L3124.5 1193.9L3125.8 1190.5L3127.2 1185.4L3128.5 1180.6L3129.7 1184.5L3130.9 1190.5L3132.6 1194.2L3134.3 1195.6L3136.5 1193.5L3137.4 1187.1L3138.6 1183.3L3140.3 1182.8L3141.5 1187.9L3142.3 1184.5L3143.3 1188.8L3145.4 1189.6L3145.9 1199.0L3147.6 1204.1L3148.8 1212.6L3150.1 1226.2L3152.2 1233.0L3153.5 1244.9L3154.2 1255.1L3155.6 1256.8L3157.3 1265.3L3159.0 1271.2L3161.5 1275.5L3163.2 1280.3L3164.6 1280.3L3165.8 1274.6L3168.3 1271.8L3170.9 1267.0L3173.1 1265.0L3175.1 1266.1L3177.2 1272.9L3179.4 1274.6L3181.9 1276.9L3184.5 1279.7L3186.2 1276.3L3188.7 1275.2L3192.1 1273.8L3195.5 1275.5L3198.1 1276.3L3200.1 1278.0L3203.2 1276.3L3204.9 1275.8L3207.4 1276.9L3210.0 1279.2L3213.4 1282.0L3216.0 1280.3L3220.2 1279.7L3221.9 1278.9L3224.5 1279.7L3229.6 1280.1L3232.1 1282.0L3234.7 1284.0L3242.0 1284.0L3244.0 1281.4L3247.4 1280.6L3250.8 1278.9L3253.4 1280.6L3257.6 1280.9L3259.3 1282.8L3263.6 1282.8L3264.4 1284.0L3265.3 1282.8L3267.0 1281.8L3272.9 1281.8L3274.6 1284.0L3284.8 1284.0L3285.7 1282.8L3293.3 1282.8L3294.2 1284.0L3301.0 1284.0L3301.8 1282.8L3308.6 1282.8L3309.1 1284.0L3312.9 1284.0L3313.7 1282.8L3315.4 1282.8L3316.0 1284.0L3317.1 1282.8L3320.5 1282.8L3321.4 1282.0L3322.2 1282.8L3332.4 1282.8L3333.3 1284.0L3337.6 1284.0L3339.3 1282.8L3342.7 1282.0L3344.7 1280.6L3346.4 1279.7L3348.1 1281.4L3352.0 1282.3L3353.7 1283.7L3360.0 1284.0L3374.9 1284.0L3375.0 1283.0L3375.9 1283.0L3375.9 1284.0L3410.1 1284.0L3410.2 1281.8L3412.9 1281.8L3413.0 1284.0Z" fill="#D73027" shape-rendering="crispEdges"/>
<rect x="458.0" y="1284.00" width="3095.8" height="1" fill="#000"/>
<path d="M638.8 1462.0L640.6 1456.8L647.8 1456.8L648.1 1452.9L648.6 1452.9L648.9 1456.8L655.4 1456.8L656.9 1458.9L658.2 1462.0L671.7 1462.0L673.5 1456.8L678.7 1456.8L679.5 1448.5L680.8 1440.7L688.0 1440.7L689.1 1448.5L689.8 1456.8L693.0 1456.8L694.5 1459.4L695.3 1462.0L699.4 1462.0L701.0 1456.8L706.2 1456.8L708.5 1458.9L710.1 1462.0L728.7 1462.0L729.3 1456.8L734.7 1456.8L735.7 1454.2L736.5 1451.6L738.6 1451.6L739.1 1456.8L743.0 1456.8L745.6 1458.9L747.2 1462.0L1230.8 1462.0L1232.0 1456.9L1239.0 1456.9L1240.2 1451.8L1241.9 1453.8L1243.1 1456.9L1247.8 1456.9L1249.5 1459.8L1250.4 1462.0L1266.9 1462.0L1269.1 1458.1L1271.3 1452.1L1272.8 1445.3L1273.3 1441.1L1274.5 1441.1L1275.9 1432.6L1277.6 1424.1L1278.8 1418.1L1279.3 1407.9L1282.7 1407.9L1283.5 1400.3L1284.7 1393.5L1285.4 1387.0L1286.3 1393.5L1287.4 1396.9L1288.6 1398.6L1289.1 1407.9L1290.7 1409.3L1291.5 1414.7L1292.6 1415.6L1293.7 1424.1L1295.1 1431.7L1296.3 1436.8L1297.5 1441.1L1298.8 1437.7L1300.5 1432.6L1301.7 1423.2L1302.6 1399.4L1303.4 1376.5L1304.3 1379.0L1305.3 1375.9L1307.0 1375.6L1307.7 1370.5L1308.5 1364.9L1309.6 1366.3L1309.9 1376.5L1310.7 1377.6L1311.3 1390.9L1312.1 1406.2L1313.3 1421.5L1314.5 1435.1L1316.2 1441.9L1316.9 1451.8L1318.7 1451.8L1319.8 1447.0L1321.0 1441.9L1322.7 1436.8L1324.4 1430.0L1325.5 1424.1L1326.9 1418.1L1328.1 1411.3L1328.8 1408.8L1329.5 1413.9L1330.3 1419.8L1331.5 1425.8L1332.5 1429.2L1333.7 1431.7L1334.6 1436.0L1335.4 1446.2L1336.6 1450.4L1337.6 1453.5L1338.1 1462.0L1346.8 1462.0L1347.3 1451.8L1348.5 1446.2L1349.5 1434.3L1350.2 1423.7L1353.6 1423.7L1355.0 1421.2L1355.8 1419.8L1356.3 1425.8L1357.5 1432.6L1358.4 1438.5L1359.2 1446.2L1360.1 1451.8L1363.0 1451.8L1363.5 1447.4L1364.7 1446.2L1365.7 1447.4L1366.5 1451.8L1367.7 1452.1L1369.4 1456.9L1371.1 1458.1L1372.8 1461.0L1373.3 1462.0L1417.0 1462.0L1418.7 1459.8L1420.8 1456.9L1426.4 1456.9L1428.1 1458.9L1429.1 1462.0L1438.8 1462.0L1440.9 1459.3L1443.4 1456.9L1457.0 1456.9L1458.4 1458.9L1459.2 1462.0L1463.8 1462.0L1464.3 1456.9L1465.2 1451.8L1472.8 1451.8L1473.5 1446.7L1474.0 1451.8L1475.7 1451.8L1476.6 1446.2L1477.4 1441.1L1478.8 1441.1L1479.6 1435.1L1480.5 1430.0L1481.7 1431.7L1482.9 1434.8L1484.2 1424.9L1485.4 1413.9L1486.8 1415.6L1487.6 1421.5L1489.0 1428.3L1490.2 1434.8L1493.2 1435.1L1494.1 1436.8L1494.8 1447.0L1495.6 1458.9L1496.1 1462.0L1499.9 1462.0L1501.2 1457.2L1502.9 1450.4L1504.3 1446.2L1505.5 1446.2L1506.3 1440.2L1507.2 1435.1L1510.6 1434.8L1511.9 1436.8L1512.6 1440.2L1514.0 1441.9L1514.8 1446.2L1515.7 1456.9L1519.9 1456.9L1521.6 1458.9L1524.2 1462.0L1801.7 1462.0L1802.3 1456.9L1804.1 1456.9L1805.0 1451.9L1810.7 1451.9L1811.5 1456.9L1813.0 1457.5L1815.1 1462.0L2304.8 1462.0L2305.1 1456.9L2313.2 1456.9L2315.2 1459.0L2316.4 1462.0L2323.0 1462.0L2323.3 1456.9L2328.6 1456.9L2329.2 1451.9L2333.1 1451.9L2333.7 1456.9L2337.0 1456.9L2337.9 1462.0L2345.0 1462.0L2347.4 1456.9L2349.8 1456.9L2351.0 1451.9L2353.3 1451.0L2354.5 1446.8L2355.7 1451.0L2358.7 1451.9L2360.2 1456.0L2362.9 1456.9L2364.3 1462.0L2546.8 1462.0L2547.7 1456.9L2549.2 1451.9L2552.1 1447.1L2555.7 1445.6L2558.1 1440.9L2561.1 1442.7L2563.2 1446.8L2564.6 1451.0L2566.7 1453.1L2567.9 1462.0L2936.7 1462.0L2938.2 1456.6L2943.5 1456.6L2945.5 1458.6L2947.2 1462.0L2967.1 1462.0L2968.1 1451.5L2971.9 1451.5L2972.4 1445.5L2977.8 1445.5L2979.0 1451.5L2985.5 1451.5L2987.2 1453.5L2988.0 1456.6L2997.9 1456.6L2999.1 1451.8L3001.6 1451.5L3003.3 1454.0L3004.5 1456.6L3008.8 1456.6L3009.1 1462.0L3033.9 1462.0L3034.5 1456.6L3037.0 1456.6L3038.2 1440.7L3039.9 1432.2L3041.1 1427.1L3042.4 1424.1L3045.9 1423.7L3047.0 1426.3L3048.4 1433.9L3050.1 1442.4L3051.8 1451.5L3052.7 1451.5L3053.2 1445.8L3054.0 1441.6L3054.7 1445.5L3055.5 1441.6L3056.1 1440.4L3058.6 1440.4L3059.1 1434.8L3062.5 1434.4L3063.9 1435.6L3064.2 1440.4L3066.3 1441.3L3068.0 1444.1L3069.7 1450.1L3070.5 1456.6L3073.9 1456.6L3074.4 1451.5L3076.1 1447.5L3077.3 1445.5L3085.8 1445.5L3087.5 1440.7L3089.2 1434.8L3090.9 1429.7L3093.1 1422.5L3094.8 1423.7L3097.7 1424.1L3098.6 1428.8L3099.4 1423.7L3100.6 1424.6L3101.5 1430.5L3102.3 1434.8L3103.3 1430.5L3105.0 1428.0L3106.2 1418.6L3111.8 1418.6L3112.5 1414.4L3113.9 1417.8L3115.2 1423.7L3116.4 1429.7L3118.1 1429.7L3119.0 1407.6L3121.2 1402.8L3123.7 1402.5L3124.4 1391.8L3125.8 1391.4L3126.6 1381.2L3127.5 1377.8L3128.7 1365.1L3129.5 1361.7L3130.5 1358.3L3131.7 1347.2L3132.6 1338.7L3133.9 1343.0L3135.1 1326.8L3136.0 1316.6L3136.5 1310.6L3137.3 1316.6L3138.0 1310.6L3138.9 1310.6L3139.7 1321.7L3140.6 1326.8L3141.9 1323.4L3143.6 1321.7L3144.5 1330.2L3145.7 1338.7L3146.5 1350.6L3147.6 1364.2L3148.7 1376.1L3149.9 1377.8L3150.4 1396.5L3151.6 1398.2L3152.5 1415.2L3153.8 1424.6L3154.7 1429.7L3155.5 1426.3L3156.7 1429.7L3158.6 1430.5L3159.5 1440.4L3161.2 1440.4L3162.3 1429.7L3163.7 1429.3L3164.9 1422.0L3166.3 1416.9L3167.8 1411.8L3168.6 1407.6L3169.5 1414.4L3170.9 1416.9L3172.6 1421.2L3173.7 1423.7L3174.6 1433.9L3176.0 1444.1L3177.7 1445.8L3179.4 1446.7L3181.1 1444.1L3182.8 1439.9L3183.3 1434.8L3187.9 1434.8L3188.5 1429.7L3189.6 1430.5L3190.1 1440.4L3191.6 1441.6L3192.1 1451.5L3197.2 1451.5L3198.1 1453.5L3198.4 1462.0L3202.8 1462.0L3203.5 1456.6L3205.4 1451.8L3207.4 1451.5L3209.1 1447.5L3210.5 1445.5L3212.2 1445.8L3213.4 1450.9L3214.7 1452.6L3215.4 1456.6L3216.8 1456.6L3217.3 1452.6L3218.5 1455.2L3219.3 1456.6L3225.3 1456.6L3226.1 1462.0L3227.1 1456.6L3236.7 1456.6L3237.2 1462.0L3255.9 1462.0L3256.7 1456.6L3258.8 1451.5L3264.4 1451.5L3266.1 1454.3L3267.3 1458.6L3268.1 1462.0L3276.8 1462.0L3277.1 1456.6L3286.5 1456.6L3287.0 1462.0L3295.0 1462.0L3295.3 1456.6L3303.5 1456.6L3304.7 1458.6L3305.2 1462.0Z" fill="#A50026" shape-rendering="crispEdges"/>
<rect x="458.0" y="1462.00" width="3095.8" height="1" fill="#000"/>
<path d="M625.8 1641.0L625.9 1640.0L634.0 1640.0L634.1 1641.0L641.9 1641.0L641.9 1640.0L643.9 1638.9L645.2 1636.9L650.9 1636.9L652.2 1637.9L654.3 1638.9L657.9 1639.7L659.5 1638.7L662.1 1638.7L662.9 1637.6L663.9 1638.7L667.0 1638.7L667.8 1639.7L670.9 1640.0L670.9 1641.0L680.0 1641.0L680.0 1640.0L693.2 1640.0L694.3 1637.9L702.8 1637.9L704.1 1638.9L705.9 1639.7L708.8 1639.7L709.3 1638.9L709.8 1640.0L724.9 1640.0L726.2 1638.9L728.0 1637.9L733.4 1637.9L735.2 1638.9L737.3 1639.7L738.3 1641.0L844.1 1641.0L844.1 1640.0L848.8 1639.7L850.6 1638.9L852.4 1637.9L857.6 1637.9L859.2 1638.9L862.3 1639.7L863.3 1641.0L868.0 1641.0L868.0 1640.0L869.6 1638.9L872.7 1638.9L873.5 1637.9L874.8 1637.9L875.5 1638.9L877.3 1638.9L878.6 1640.0L879.4 1641.0L905.1 1641.0L905.2 1640.0L912.0 1640.0L912.1 1641.0L923.2 1641.0L923.4 1640.0L930.9 1640.0L931.0 1641.0L938.8 1641.0L938.8 1640.0L941.4 1639.7L942.2 1638.9L946.6 1638.9L947.4 1640.0L950.0 1640.0L950.0 1641.0L964.0 1641.0L964.1 1640.0L970.1 1640.0L970.2 1641.0L1021.8 1641.0L1021.8 1640.0L1045.7 1640.0L1046.2 1639.2L1047.0 1640.0L1056.3 1640.0L1057.3 1638.9L1064.1 1638.9L1065.1 1640.0L1066.1 1640.0L1066.1 1641.0L1077.0 1641.0L1077.2 1640.0L1084.9 1640.0L1085.1 1641.0L1100.9 1641.0L1101.0 1640.0L1108.8 1640.0L1108.9 1641.0L1114.9 1641.0L1115.2 1638.9L1123.7 1638.9L1124.5 1640.0L1125.0 1641.0L1129.9 1641.0L1129.9 1640.0L1131.5 1638.9L1139.3 1638.9L1140.1 1641.0L1142.9 1641.0L1142.9 1640.0L1146.3 1639.7L1147.1 1638.9L1149.6 1638.9L1150.4 1637.9L1157.9 1637.9L1159.2 1638.9L1163.1 1639.7L1163.9 1641.0L1175.1 1641.0L1175.1 1640.0L1177.4 1639.7L1178.2 1638.9L1180.8 1638.9L1181.5 1640.0L1183.9 1640.0L1183.9 1641.0L1189.6 1641.0L1189.6 1640.0L1191.7 1637.9L1194.3 1636.3L1198.1 1635.0L1200.0 1635.0L1200.0 1641.0L1200.0 1635.6L1201.1 1636.6L1207.0 1636.6L1208.4 1633.7L1211.8 1633.5L1213.8 1630.6L1215.5 1632.8L1216.4 1634.5L1219.8 1634.5L1220.3 1631.0L1222.0 1631.6L1225.4 1630.6L1227.1 1626.0L1229.5 1624.7L1232.0 1623.0L1233.4 1620.4L1235.9 1617.9L1238.5 1615.3L1239.8 1614.5L1240.3 1611.9L1241.9 1613.3L1244.4 1614.5L1247.8 1615.7L1249.2 1617.9L1250.4 1623.0L1251.6 1628.1L1253.8 1632.3L1256.3 1636.6L1261.4 1636.6L1263.5 1638.3L1266.9 1638.8L1267.9 1639.5L1269.6 1636.6L1270.8 1632.3L1272.0 1626.4L1273.0 1620.4L1274.5 1615.3L1275.9 1611.1L1276.7 1605.1L1277.2 1594.9L1278.4 1592.7L1280.5 1591.9L1281.8 1593.7L1283.5 1597.5L1284.9 1600.0L1285.6 1604.3L1286.9 1607.7L1288.3 1610.7L1289.1 1600.9L1290.0 1601.7L1290.5 1610.2L1291.2 1610.2L1291.5 1601.7L1292.0 1601.7L1292.4 1609.4L1293.7 1608.5L1295.4 1606.0L1297.5 1606.8L1300.2 1606.8L1300.5 1604.6L1302.2 1604.6L1302.8 1590.7L1303.3 1581.6L1304.8 1583.0L1306.2 1589.8L1307.7 1591.5L1309.0 1596.6L1310.7 1603.4L1312.1 1611.1L1313.0 1625.5L1314.5 1625.9L1315.5 1623.0L1317.6 1621.6L1319.3 1615.3L1320.6 1611.1L1321.8 1607.3L1323.5 1603.9L1325.2 1602.9L1327.4 1603.9L1328.6 1609.4L1329.8 1614.5L1331.2 1622.1L1332.9 1628.9L1334.6 1632.8L1336.3 1635.7L1339.7 1635.7L1341.4 1634.5L1343.9 1631.5L1346.1 1629.8L1347.3 1626.4L1349.0 1618.7L1350.4 1615.8L1351.1 1612.8L1352.4 1613.6L1352.9 1617.0L1353.8 1613.6L1355.0 1611.1L1356.3 1605.6L1358.4 1608.5L1360.9 1611.1L1363.5 1614.5L1365.2 1620.4L1366.9 1625.5L1368.6 1630.6L1370.3 1634.9L1372.0 1637.4L1373.7 1638.6L1377.1 1638.6L1378.4 1637.8L1385.6 1637.8L1388.1 1638.8L1389.8 1640.0L1390.7 1638.8L1391.5 1640.0L1396.6 1640.0L1397.5 1638.8L1407.7 1638.8L1408.5 1639.6L1411.9 1640.0L1413.1 1641.0L1435.7 1641.0L1436.6 1640.0L1440.0 1639.6L1441.7 1637.9L1443.4 1635.7L1446.0 1634.5L1448.5 1633.5L1451.1 1633.7L1453.6 1635.7L1456.2 1636.6L1457.9 1637.9L1460.4 1638.8L1462.1 1636.9L1464.7 1634.9L1467.2 1632.3L1468.9 1630.6L1471.5 1627.7L1476.6 1627.6L1478.3 1625.2L1481.7 1623.8L1484.2 1623.3L1486.8 1619.6L1488.0 1622.1L1490.2 1624.7L1491.0 1625.5L1492.7 1625.5L1493.6 1628.9L1495.3 1632.8L1496.6 1635.7L1498.7 1635.7L1500.4 1634.9L1502.1 1634.5L1502.9 1628.9L1505.5 1628.1L1507.7 1624.7L1509.7 1623.0L1510.6 1620.9L1512.6 1620.9L1514.8 1623.8L1517.9 1626.4L1519.6 1628.9L1521.3 1629.8L1522.0 1634.5L1525.0 1636.6L1529.3 1636.9L1530.1 1639.6L1533.5 1640.0L1534.9 1637.9L1542.9 1637.8L1544.6 1635.7L1546.8 1633.2L1548.8 1628.9L1551.4 1628.9L1553.9 1630.6L1557.3 1633.2L1558.2 1632.0L1559.9 1633.7L1561.6 1632.8L1562.8 1631.0L1564.1 1632.3L1566.7 1633.2L1569.3 1635.7L1571.8 1637.9L1575.2 1641.0L1578.6 1641.0L1580.3 1637.9L1582.9 1637.4L1584.6 1634.9L1587.1 1634.0L1588.8 1632.8L1590.0 1632.8L1590.1 1641.0L1590.1 1632.1L1592.5 1632.1L1595.5 1634.5L1598.5 1635.6L1600.8 1637.4L1605.3 1638.0L1606.8 1641.0L1615.1 1641.0L1615.3 1639.8L1631.0 1639.8L1631.2 1641.0L1633.0 1641.0L1633.0 1639.8L1634.5 1638.6L1638.6 1638.6L1639.5 1639.8L1647.0 1639.8L1647.9 1638.6L1649.3 1638.6L1650.2 1639.8L1666.3 1639.8L1666.3 1641.0L1673.2 1641.0L1673.3 1639.8L1702.8 1639.8L1702.9 1641.0L1719.0 1641.0L1719.0 1639.8L1722.9 1639.8L1723.8 1638.6L1734.8 1638.6L1735.7 1637.4L1736.5 1636.5L1737.7 1637.4L1739.2 1636.5L1743.1 1636.5L1744.6 1638.0L1746.7 1639.8L1747.3 1641.0L1755.6 1641.0L1755.6 1639.8L1760.1 1639.5L1761.5 1638.0L1763.0 1637.4L1769.0 1637.4L1770.5 1638.9L1773.5 1639.8L1774.0 1641.0L1808.3 1641.0L1808.3 1639.8L1812.7 1639.8L1813.6 1638.6L1815.1 1638.6L1816.0 1639.8L1821.1 1639.8L1821.1 1641.0L1835.4 1641.0L1835.4 1639.8L1837.4 1638.6L1840.4 1635.6L1843.4 1633.0L1849.3 1633.0L1851.4 1635.0L1853.8 1638.0L1856.8 1639.2L1862.7 1639.8L1863.3 1638.6L1864.2 1639.8L1868.7 1639.8L1869.6 1638.6L1871.1 1638.6L1872.0 1639.8L1874.6 1639.8L1875.5 1638.6L1877.6 1638.6L1878.5 1639.8L1884.2 1639.8L1884.2 1641.0L1905.0 1641.0L1905.0 1639.8L1912.7 1639.8L1913.9 1638.6L1918.7 1638.3L1920.2 1636.8L1922.3 1636.5L1924.3 1638.0L1927.6 1638.6L1928.8 1639.8L1940.1 1639.8L1940.1 1641.0L1947.0 1641.0L1947.0 1639.8L1953.5 1639.8L1954.1 1638.6L1955.6 1638.6L1956.5 1639.8L1962.1 1639.8L1962.1 1641.0L2030.9 1641.0L2030.9 1639.8L2037.7 1639.8L2038.6 1638.6L2040.7 1638.6L2041.6 1639.8L2047.0 1639.8L2047.0 1641.0L2061.2 1641.0L2061.2 1639.8L2064.5 1639.5L2065.7 1638.6L2077.6 1638.6L2078.8 1639.8L2082.1 1639.8L2082.1 1641.0L2091.9 1641.0L2092.1 1639.8L2100.1 1639.8L2100.2 1641.0L2108.9 1641.0L2109.0 1639.8L2120.9 1639.8L2121.1 1641.0L2126.1 1641.0L2126.3 1639.8L2134.9 1639.8L2135.1 1641.0L2144.0 1641.0L2144.0 1639.8L2147.9 1639.8L2148.8 1638.6L2150.2 1638.6L2151.1 1639.8L2154.4 1639.8L2155.3 1638.6L2156.8 1638.6L2157.7 1639.8L2162.7 1639.8L2162.7 1641.0L2172.9 1641.0L2172.9 1639.8L2179.7 1639.8L2180.3 1638.9L2181.2 1639.8L2187.7 1639.8L2187.7 1641.0L2191.0 1641.0L2191.2 1639.8L2200.7 1639.8L2200.8 1641.0L2229.7 1641.0L2229.7 1639.8L2245.8 1639.8L2246.4 1638.9L2247.3 1639.8L2256.2 1639.8L2256.2 1641.0L2273.6 1641.0L2273.7 1639.8L2279.7 1639.8L2279.8 1641.0L2279.8 1639.8L2279.9 1639.8L2280.0 1641.0L2289.9 1641.0L2289.9 1639.8L2296.2 1639.8L2297.1 1638.6L2300.7 1638.6L2301.5 1637.4L2304.2 1637.4L2305.1 1638.6L2308.1 1637.4L2309.0 1636.5L2309.9 1639.8L2316.7 1639.8L2316.7 1641.0L2346.8 1641.0L2346.8 1639.8L2355.4 1639.8L2356.3 1638.6L2357.8 1638.6L2358.7 1639.8L2362.9 1639.8L2363.8 1638.6L2372.7 1638.6L2373.6 1639.8L2376.5 1639.8L2377.4 1638.6L2380.1 1638.6L2381.0 1639.8L2383.1 1638.6L2386.1 1638.6L2387.0 1639.8L2392.0 1639.8L2392.0 1641.0L2394.4 1641.0L2394.4 1639.8L2400.4 1639.8L2401.2 1638.6L2409.3 1638.6L2410.2 1639.8L2415.2 1639.8L2416.1 1638.6L2420.3 1638.6L2421.8 1636.8L2423.3 1638.6L2430.7 1638.6L2431.6 1639.8L2433.7 1639.8L2433.7 1641.0L2448.9 1641.0L2448.9 1639.8L2471.8 1639.8L2472.7 1638.6L2473.9 1638.6L2474.8 1639.8L2478.9 1639.8L2478.9 1641.0L2501.2 1641.0L2501.4 1639.8L2508.5 1639.8L2508.7 1641.0L2514.0 1641.0L2514.0 1639.8L2521.5 1639.8L2522.4 1638.6L2523.3 1639.8L2529.5 1639.8L2529.5 1641.0L2534.3 1641.0L2534.4 1639.8L2541.6 1639.8L2541.7 1641.0L2580.1 1641.0L2580.1 1639.8L2585.5 1639.8L2586.4 1638.6L2588.5 1638.6L2589.3 1639.8L2593.8 1639.8L2594.4 1637.4L2595.0 1638.6L2602.7 1638.6L2603.6 1639.8L2607.8 1639.8L2609.3 1638.6L2611.7 1637.4L2613.8 1635.6L2615.8 1637.4L2617.6 1638.6L2621.2 1638.6L2622.1 1639.8L2624.8 1639.8L2626.2 1638.6L2628.0 1637.4L2633.1 1637.4L2634.6 1638.6L2636.1 1639.8L2636.1 1641.0L2642.9 1641.0L2643.2 1638.6L2653.3 1638.6L2654.2 1639.8L2658.4 1639.8L2659.3 1638.6L2667.3 1638.6L2668.8 1639.8L2669.7 1641.0L2678.3 1641.0L2678.3 1639.8L2680.7 1638.6L2683.7 1636.8L2686.1 1635.6L2688.2 1637.4L2691.1 1638.0L2692.6 1639.8L2693.2 1641.0L2702.1 1641.0L2702.1 1639.8L2705.4 1639.5L2706.9 1637.7L2709.9 1637.7L2711.4 1638.6L2714.9 1638.6L2715.8 1639.8L2728.3 1639.8L2729.8 1638.6L2732.8 1636.8L2737.3 1636.8L2740.2 1638.6L2741.7 1639.8L2743.8 1639.8L2744.7 1638.6L2753.6 1638.6L2754.5 1639.8L2770.0 1639.8L2770.0 1641.0L2773.9 1641.0L2774.2 1638.6L2780.4 1638.6L2781.9 1636.8L2783.4 1638.6L2791.4 1638.6L2792.3 1639.8L2794.4 1639.8L2796.2 1637.7L2804.8 1637.7L2805.7 1638.6L2811.1 1638.6L2812.3 1637.7L2813.5 1638.6L2819.1 1638.6L2820.0 1639.8L2825.1 1639.8L2825.1 1641.0L2837.0 1641.0L2837.0 1639.8L2839.9 1638.6L2842.0 1637.7L2847.4 1637.7L2848.3 1638.6L2851.8 1638.6L2853.3 1637.7L2857.8 1637.4L2860.2 1635.6L2862.3 1637.4L2864.6 1638.9L2866.1 1641.0L2880.1 1641.0L2880.1 1639.8L2883.1 1638.9L2885.5 1637.4L2893.5 1637.4L2895.0 1638.6L2898.0 1638.9L2898.9 1641.0L2910.8 1641.0L2910.8 1639.8L2927.7 1639.8L2929.2 1638.6L2931.3 1637.4L2933.7 1635.6L2935.8 1636.8L2937.6 1637.4L2939.6 1636.8L2941.1 1638.0L2943.2 1638.6L2948.6 1638.6L2950.1 1639.8L2951.0 1641.0L2957.5 1641.0L2957.5 1639.8L2960.5 1638.9L2962.0 1638.6L2970.0 1638.6L2970.0 1641.0L2970.0 1639.8L2974.5 1639.8L2975.3 1641.0L2981.3 1641.0L2983.0 1639.5L2987.2 1637.9L2992.3 1637.8L2994.0 1638.8L2995.7 1637.8L3000.8 1637.8L3003.4 1639.8L3012.7 1639.8L3013.6 1641.0L3024.6 1641.0L3025.5 1638.8L3028.9 1638.6L3030.6 1637.1L3032.3 1634.9L3035.7 1634.0L3036.9 1628.1L3039.1 1623.8L3041.6 1622.5L3044.2 1620.4L3045.5 1618.7L3046.7 1618.7L3047.6 1626.9L3050.1 1623.8L3055.6 1623.8L3057.3 1620.8L3058.3 1610.2L3059.1 1606.0L3061.2 1603.4L3062.9 1597.5L3064.3 1591.5L3065.4 1588.6L3067.5 1590.7L3068.0 1602.6L3070.5 1603.8L3071.4 1613.6L3072.8 1623.8L3078.7 1623.8L3080.4 1621.3L3082.4 1616.2L3085.0 1611.1L3087.2 1608.2L3089.6 1606.8L3091.8 1609.4L3093.5 1611.1L3094.4 1617.9L3095.7 1621.8L3097.8 1623.8L3098.6 1626.4L3101.2 1629.8L3102.5 1633.2L3105.4 1632.8L3107.1 1628.9L3108.8 1625.5L3110.9 1624.7L3112.2 1617.0L3113.1 1606.0L3115.1 1600.0L3117.3 1599.2L3118.5 1591.5L3119.5 1585.6L3120.7 1577.9L3122.4 1570.3L3124.5 1569.4L3125.8 1559.2L3127.5 1549.0L3128.4 1542.2L3129.2 1534.5L3130.6 1535.4L3131.4 1541.3L3132.1 1524.8L3133.8 1524.8L3134.3 1517.5L3135.7 1518.4L3136.2 1530.6L3139.4 1530.6L3139.9 1538.8L3141.1 1545.6L3142.8 1554.1L3144.5 1561.7L3146.2 1572.8L3147.1 1569.4L3148.4 1570.8L3149.3 1595.8L3151.3 1601.7L3153.5 1606.8L3154.4 1618.7L3156.4 1622.1L3158.1 1627.6L3160.7 1625.5L3163.2 1623.0L3165.8 1621.3L3168.3 1619.6L3169.7 1617.5L3171.7 1619.2L3173.9 1623.0L3175.1 1624.7L3176.8 1623.8L3178.2 1628.6L3180.2 1628.9L3182.8 1630.6L3183.6 1632.7L3184.8 1632.3L3185.7 1629.3L3187.9 1628.1L3190.4 1626.4L3193.8 1622.6L3196.4 1624.2L3198.9 1627.2L3201.2 1629.8L3203.2 1632.7L3205.7 1635.7L3207.4 1637.1L3210.0 1638.3L3211.7 1638.8L3216.8 1638.8L3218.5 1635.7L3221.9 1635.2L3223.6 1634.5L3225.6 1635.2L3227.0 1636.6L3232.1 1636.7L3233.5 1638.8L3236.4 1638.8L3237.2 1637.8L3238.9 1638.8L3250.8 1638.8L3252.2 1637.8L3255.1 1637.4L3256.8 1636.6L3258.5 1637.1L3260.2 1638.8L3263.6 1639.8L3264.4 1641.0L3267.8 1641.0L3268.7 1639.8L3275.5 1639.8L3276.3 1641.0L3286.5 1641.0L3288.2 1639.8L3290.8 1638.8L3296.7 1638.6L3298.4 1637.1L3300.1 1635.2L3301.8 1634.7L3304.4 1635.7L3308.6 1635.7L3310.0 1638.8L3311.7 1639.8L3312.4 1641.0L3337.6 1641.0L3338.4 1639.8L3341.8 1639.5L3342.7 1637.8L3346.1 1637.8L3346.9 1638.6L3347.8 1637.8L3351.2 1637.8L3352.9 1639.1L3354.2 1639.8L3356.3 1637.8L3357.1 1635.7L3360.0 1635.7L3360.2 1641.0L3360.2 1635.7L3363.0 1635.7L3363.2 1634.8L3364.9 1634.8L3365.9 1636.5L3367.0 1638.9L3370.0 1638.9L3370.3 1637.8L3370.8 1637.8L3371.2 1638.9L3372.7 1638.9L3373.6 1639.9L3375.3 1637.8L3379.8 1637.8L3381.5 1639.9L3382.7 1639.9L3383.2 1641.0L3390.0 1641.0L3390.4 1639.9L3397.6 1639.9L3398.0 1641.0L3410.2 1641.0L3410.4 1639.9L3411.6 1639.9L3412.1 1641.0Z" fill="#8E0152" shape-rendering="crispEdges"/>
<rect x="458.0" y="1641.00" width="3095.8" height="1" fill="#000"/>
<rect x="158.2" y="45" width="3.8" height="1604" fill="#000"/>
<rect x="148.9" y="213.20" width="9.5" height="3.8" fill="#333"/>
<rect x="148.9" y="176.35" width="9.5" height="3.8" fill="#333"/>
<rect x="148.9" y="139.50" width="9.5" height="3.8" fill="#333"/>
<rect x="148.9" y="102.65" width="9.5" height="3.8" fill="#333"/>
<rect x="148.9" y="65.80" width="9.5" height="3.8" fill="#333"/>
<rect x="148.9" y="391.20" width="9.5" height="3.8" fill="#333"/>
<rect x="148.9" y="354.35" width="9.5" height="3.8" fill="#333"/>
<rect x="148.9" y="317.50" width="9.5" height="3.8" fill="#333"/>
<rect x="148.9" y="280.65" width="9.5" height="3.8" fill="#333"/>
<rect x="148.9" y="243.80" width="9.5" height="3.8" fill="#333"/>
<rect x="148.9" y="570.20" width="9.5" height="3.8" fill="#333"/>
<rect x="148.9" y="533.35" width="9.5" height="3.8" fill="#333"/>
<rect x="148.9" y="496.50" width="9.5" height="3.8" fill="#333"/>
<rect x="148.9" y="459.65" width="9.5" height="3.8" fill="#333"/>
<rect x="148.9" y="422.80" width="9.5" height="3.8" fill="#333"/>
<rect x="148.9" y="748.20" width="9.5" height="3.8" fill="#333"/>
<rect x="148.9" y="711.35" width="9.5" height="3.8" fill="#333"/>
<rect x="148.9" y="674.50" width="9.5" height="3.8" fill="#333"/>
<rect x="148.9" y="637.65" width="9.5" height="3.8" fill="#333"/>
<rect x="148.9" y="600.80" width="9.5" height="3.8" fill="#333"/>
<rect x="148.9" y="926.20" width="9.5" height="3.8" fill="#333"/>
<rect x="148.9" y="889.35" width="9.5" height="3.8" fill="#333"/>
<rect x="148.9" y="852.50" width="9.5" height="3.8" fill="#333"/>
<rect x="148.9" y="815.65" width="9.5" height="3.8" fill="#333"/>
<rect x="148.9" y="778.80" width="9.5" height="3.8" fill="#333"/>
<rect x="148.9" y="1104.20" width="9.5" height="3.8" fill="#333"/>
<rect x="148.9" y="1067.35" width="9.5" height="3.8" fill="#333"/>
<rect x="148.9" y="1030.50" width="9.5" height="3.8" fill="#333"/>
<rect x="148.9" y="993.65" width="9.5" height="3.8" fill="#333"/>
<rect x="148.9" y="956.80" width="9.5" height="3.8" fill="#333"/>
<rect x="148.9" y="1282.20" width="9.5" height="3.8" fill="#333"/>
<rect x="148.9" y="1245.35" width="9.5" height="3.8" fill="#333"/>
<rect x="148.9" y="1208.50" width="9.5" height="3.8" fill="#333"/>
<rect x="148.9" y="1171.65" width="9.5" height="3.8" fill="#333"/>
<rect x="148.9" y="1134.80" width="9.5" height="3.8" fill="#333"/>
<rect x="148.9" y="1460.20" width="9.5" height="3.8" fill="#333"/>
<rect x="148.9" y="1423.35" width="9.5" height="3.8" fill="#333"/>
<rect x="148.9" y="1386.50" width="9.5" height="3.8" fill="#333"/>
<rect x="148.9" y="1349.65" width="9.5" height="3.8" fill="#333"/>
<rect x="148.9" y="1312.80" width="9.5" height="3.8" fill="#333"/>
<rect x="148.9" y="1639.20" width="9.5" height="3.8" fill="#333"/>
<rect x="148.9" y="1602.35" width="9.5" height="3.8" fill="#333"/>
<rect x="148.9" y="1565.50" width="9.5" height="3.8" fill="#333"/>
<rect x="148.9" y="1528.65" width="9.5" height="3.8" fill="#333"/>
<rect x="148.9" y="1491.80" width="9.5" height="3.8" fill="#333"/>
<rect x="158.2" y="1706" width="3.8" height="319.6" fill="#000"/>
<rect x="158.2" y="2083.7" width="3.8" height="160.1" fill="#000"/>
<rect x="458.0" y="2242.2" width="3095.8" height="3.8" fill="#000"/>
<rect x="623.4" y="2246" width="3.7" height="9" fill="#333"/>
<text transform="translate(624.9,2293.1) scale(1,1.035)" font-size="37.7" fill="#4D4D4D" text-anchor="middle">5400000</text>
<rect x="1624.0" y="2246" width="3.7" height="9" fill="#333"/>
<text transform="translate(1625.4,2293.1) scale(1,1.035)" font-size="37.7" fill="#4D4D4D" text-anchor="middle">5410000</text>
<rect x="2625.2" y="2246" width="3.7" height="9" fill="#333"/>
<text transform="translate(2626.6,2293.1) scale(1,1.035)" font-size="37.7" fill="#4D4D4D" text-anchor="middle">5420000</text>
<text x="2006" y="2345.8" font-size="45.83" fill="#000" text-anchor="middle">chr19 position (bp)</text>
<text transform="translate(308.5,148.7) scale(1,1.035)" font-size="37.5" fill="#000" text-anchor="middle">5 DP</text>
<text transform="translate(308.5,326.7) scale(1,1.035)" font-size="37.5" fill="#000" text-anchor="middle">3 PF</text>
<text transform="translate(308.5,505.7) scale(1,1.035)" font-size="37.5" fill="#000" text-anchor="middle">1 PF</text>
<text transform="translate(308.5,683.7) scale(1,1.035)" font-size="37.5" fill="#000" text-anchor="middle">6 PF</text>
<text transform="translate(308.5,861.7) scale(1,1.035)" font-size="37.5" fill="#000" text-anchor="middle" textLength="179" lengthAdjust="spacingAndGlyphs">2 Div Fibro</text>
<text transform="translate(308.5,1039.7) scale(1,1.035)" font-size="37.5" fill="#000" text-anchor="middle">0 RF</text>
<text transform="translate(308.5,1217.7) scale(1,1.035)" font-size="37.5" fill="#000" text-anchor="middle">4 RF</text>
<text transform="translate(308.5,1395.7) scale(1,1.035)" font-size="37.5" fill="#000" text-anchor="middle" textLength="261" lengthAdjust="spacingAndGlyphs">8 Pre-Adipocyte</text>
<text transform="translate(308.5,1574.7) scale(1,1.035)" font-size="37.5" fill="#000" text-anchor="middle" textLength="139.5" lengthAdjust="spacingAndGlyphs">7 Fascia</text>
<text transform="translate(80.6,854.3) rotate(-90)" font-size="45.83" text-anchor="middle" textLength="490" lengthAdjust="spacing">Normalized accessibility</text>
<text transform="translate(129.8,846.6) rotate(-90)" font-size="45.83" text-anchor="middle" textLength="304.5" lengthAdjust="spacing">(range 0 - 220)</text>
<text transform="translate(105.6,1866) rotate(-90)" font-size="45.83" text-anchor="middle">Genes</text>
<text transform="translate(105.6,2163.5) rotate(-90)" font-size="45.83" text-anchor="middle">Peaks</text>
<rect x="1216.1" y="2156.1" width="168.8" height="16.9" fill="#696969"/>
<rect x="1465.1" y="2156.1" width="91.8" height="16.9" fill="#696969"/>
<rect x="3019.1" y="2156.1" width="195.7" height="16.9" fill="#696969"/>
<line x1="1300" y1="2004.0" x2="2911.8" y2="2004.0" stroke="#00008B" stroke-width="3.8" stroke-linecap="round"/>
<polyline points="1289.3,1993.2 1299.8,2004.0 1289.3,2014.8" fill="none" stroke="#00008B" stroke-width="3.8" stroke-linejoin="miter"/>
<polyline points="1389.5,1993.2 1400.0,2004.0 1389.5,2014.8" fill="none" stroke="#00008B" stroke-width="3.8" stroke-linejoin="miter"/>
<polyline points="1489.8,1993.2 1500.3,2004.0 1489.8,2014.8" fill="none" stroke="#00008B" stroke-width="3.8" stroke-linejoin="miter"/>
<polyline points="1590.0,1993.2 1600.5,2004.0 1590.0,2014.8" fill="none" stroke="#00008B" stroke-width="3.8" stroke-linejoin="miter"/>
<polyline points="1690.3,1993.2 1700.8,2004.0 1690.3,2014.8" fill="none" stroke="#00008B" stroke-width="3.8" stroke-linejoin="miter"/>
<polyline points="1790.5,1993.2 1801.0,2004.0 1790.5,2014.8" fill="none" stroke="#00008B" stroke-width="3.8" stroke-linejoin="miter"/>
<polyline points="1890.8,1993.2 1901.3,2004.0 1890.8,2014.8" fill="none" stroke="#00008B" stroke-width="3.8" stroke-linejoin="miter"/>
<polyline points="1991.0,1993.2 2001.5,2004.0 1991.0,2014.8" fill="none" stroke="#00008B" stroke-width="3.8" stroke-linejoin="miter"/>
<polyline points="2091.3,1993.2 2101.8,2004.0 2091.3,2014.8" fill="none" stroke="#00008B" stroke-width="3.8" stroke-linejoin="miter"/>
<polyline points="2191.6,1993.2 2202.1,2004.0 2191.6,2014.8" fill="none" stroke="#00008B" stroke-width="3.8" stroke-linejoin="miter"/>
<polyline points="2291.8,1993.2 2302.3,2004.0 2291.8,2014.8" fill="none" stroke="#00008B" stroke-width="3.8" stroke-linejoin="miter"/>
<polyline points="2392.1,1993.2 2402.6,2004.0 2392.1,2014.8" fill="none" stroke="#00008B" stroke-width="3.8" stroke-linejoin="miter"/>
<polyline points="2492.3,1993.2 2502.8,2004.0 2492.3,2014.8" fill="none" stroke="#00008B" stroke-width="3.8" stroke-linejoin="miter"/>
<polyline points="2592.6,1993.2 2603.1,2004.0 2592.6,2014.8" fill="none" stroke="#00008B" stroke-width="3.8" stroke-linejoin="miter"/>
<polyline points="2692.8,1993.2 2703.3,2004.0 2692.8,2014.8" fill="none" stroke="#00008B" stroke-width="3.8" stroke-linejoin="miter"/>
<polyline points="2793.1,1993.2 2803.6,2004.0 2793.1,2014.8" fill="none" stroke="#00008B" stroke-width="3.8" stroke-linejoin="miter"/>
<rect x="1300.1" y="1982" width="33.9" height="43.8" fill="#00008B"/>
<rect x="2128.0" y="1982" width="9.9" height="43.8" fill="#00008B"/>
<rect x="2188.1" y="1982" width="19.8" height="43.8" fill="#00008B"/>
<rect x="2365.8" y="1982" width="85.9" height="43.8" fill="#00008B"/>
<rect x="2840.2" y="1982" width="71.6" height="43.8" fill="#00008B"/>
<text transform="translate(2105.1,1969.7) scale(1,1.035)" font-size="35.57" text-anchor="middle">4930481A15Rik</text>
<line x1="2907.4" y1="1922.8" x2="3124" y2="1922.8" stroke="#006400" stroke-width="3.8" stroke-linecap="round"/>
<rect x="2907.8" y="1901.1" width="22.1" height="43.9" fill="#006400"/>
<rect x="2961.1" y="1901.1" width="120.8" height="43.9" fill="#006400"/>
<rect x="3094.9" y="1901.1" width="31.2" height="43.9" fill="#006400"/>
<text transform="translate(3015.6,1888.4) scale(1,1.035)" font-size="35.57" text-anchor="middle" textLength="94" lengthAdjust="spacingAndGlyphs">Drap1</text>
<line x1="3144" y1="1842.2" x2="3360" y2="1842.2" stroke="#00008B" stroke-width="3.8" stroke-linecap="round"/>
<polyline points="3133.3,1831.4 3143.8,1842.2 3133.3,1853.0" fill="none" stroke="#00008B" stroke-width="3.8" stroke-linejoin="miter"/>
<rect x="3143.8" y="1820.2" width="15.2" height="43.8" fill="#00008B"/>
<rect x="3222.0" y="1820.2" width="137.9" height="43.8" fill="#00008B"/>
<text transform="translate(3250,1807.2) scale(1,1.035)" font-size="35.57" text-anchor="middle" textLength="150" lengthAdjust="spacingAndGlyphs">AI837181</text>
</svg>
</body></html>
